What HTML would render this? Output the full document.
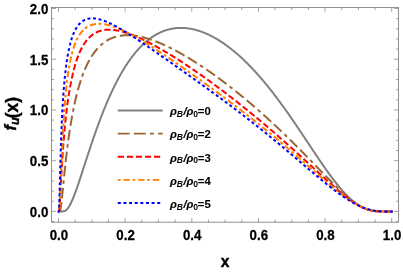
<!DOCTYPE html>
<html><head><meta charset="utf-8"><style>
html,body{margin:0;padding:0;background:#fff;}
svg{display:block;transform:translateZ(0);will-change:transform;}
text{font-family:"Liberation Sans",sans-serif;font-weight:bold;fill:#000;}
.tl{font-size:14px;stroke:#000;stroke-width:0.25px;}
.al{font-size:16.5px;stroke:#000;stroke-width:0.4px;}
.lg{font-size:11.3px;stroke:#000;stroke-width:0.1px;}
.sb{font-size:8.6px;stroke-width:0;}
</style></head><body>
<svg width="403" height="273" viewBox="0 0 403 273">
<rect width="403" height="273" fill="#fff"/>
<rect x="51.5" y="7.5" width="347.0" height="214.7" fill="none" stroke="#7f7f7f" stroke-width="0.85"/>
<path d="M58.50 222.10v-4.20M58.50 7.45v4.20M75.16 222.10v-2.60M75.16 7.45v2.60M91.82 222.10v-2.60M91.82 7.45v2.60M108.48 222.10v-2.60M108.48 7.45v2.60M125.14 222.10v-4.20M125.14 7.45v4.20M141.80 222.10v-2.60M141.80 7.45v2.60M158.46 222.10v-2.60M158.46 7.45v2.60M175.12 222.10v-2.60M175.12 7.45v2.60M191.78 222.10v-4.20M191.78 7.45v4.20M208.44 222.10v-2.60M208.44 7.45v2.60M225.10 222.10v-2.60M225.10 7.45v2.60M241.76 222.10v-2.60M241.76 7.45v2.60M258.42 222.10v-4.20M258.42 7.45v4.20M275.08 222.10v-2.60M275.08 7.45v2.60M291.74 222.10v-2.60M291.74 7.45v2.60M308.40 222.10v-2.60M308.40 7.45v2.60M325.06 222.10v-4.20M325.06 7.45v4.20M341.72 222.10v-2.60M341.72 7.45v2.60M358.38 222.10v-2.60M358.38 7.45v2.60M375.04 222.10v-2.60M375.04 7.45v2.60M391.70 222.10v-4.20M391.70 7.45v4.20M51.50 221.55h2.50M398.50 221.55h-2.50M51.50 211.40h4.40M398.50 211.40h-4.40M51.50 201.25h2.50M398.50 201.25h-2.50M51.50 191.11h2.50M398.50 191.11h-2.50M51.50 180.97h2.50M398.50 180.97h-2.50M51.50 170.82h2.50M398.50 170.82h-2.50M51.50 160.68h4.40M398.50 160.68h-4.40M51.50 150.53h2.50M398.50 150.53h-2.50M51.50 140.38h2.50M398.50 140.38h-2.50M51.50 130.24h2.50M398.50 130.24h-2.50M51.50 120.09h2.50M398.50 120.09h-2.50M51.50 109.95h4.40M398.50 109.95h-4.40M51.50 99.80h2.50M398.50 99.80h-2.50M51.50 89.66h2.50M398.50 89.66h-2.50M51.50 79.51h2.50M398.50 79.51h-2.50M51.50 69.37h2.50M398.50 69.37h-2.50M51.50 59.22h4.40M398.50 59.22h-4.40M51.50 49.08h2.50M398.50 49.08h-2.50M51.50 38.93h2.50M398.50 38.93h-2.50M51.50 28.79h2.50M398.50 28.79h-2.50M51.50 18.65h2.50M398.50 18.65h-2.50M51.50 8.50h4.40M398.50 8.50h-4.40" stroke="#7f7f7f" stroke-width="0.72" fill="none"/>
<text transform="translate(58.90 239.7) scale(0.95 1)" text-anchor="middle" class="tl">0.0</text>
<text transform="translate(125.54 239.7) scale(0.95 1)" text-anchor="middle" class="tl">0.2</text>
<text transform="translate(192.18 239.7) scale(0.95 1)" text-anchor="middle" class="tl">0.4</text>
<text transform="translate(258.82 239.7) scale(0.95 1)" text-anchor="middle" class="tl">0.6</text>
<text transform="translate(325.46 239.7) scale(0.95 1)" text-anchor="middle" class="tl">0.8</text>
<text transform="translate(392.10 239.7) scale(0.95 1)" text-anchor="middle" class="tl">1.0</text>
<text transform="translate(48.3 216.80) scale(0.95 1)" text-anchor="end" class="tl">0.0</text>
<text transform="translate(48.3 166.08) scale(0.95 1)" text-anchor="end" class="tl">0.5</text>
<text transform="translate(48.3 115.35) scale(0.95 1)" text-anchor="end" class="tl">1.0</text>
<text transform="translate(48.3 64.62) scale(0.95 1)" text-anchor="end" class="tl">1.5</text>
<text transform="translate(48.3 13.90) scale(0.95 1)" text-anchor="end" class="tl">2.0</text>
<text x="225.1" y="267.3" text-anchor="middle" class="al" style="font-size:15.6px">x</text>
<text transform="translate(15.6 113.7) rotate(-90)" text-anchor="middle" class="al"><tspan font-style="italic">f</tspan><tspan font-style="italic" font-size="12.5" dy="3.6">u</tspan><tspan dy="-1.6" font-size="17.5" dx="-1.0">(x)</tspan></text>
<clipPath id="c"><rect x="51.5" y="7.5" width="347.0" height="214.7"/></clipPath>
<g clip-path="url(#c)" fill="none" stroke-width="2" stroke-linejoin="round">
<path d="M58.50 211.40 L58.54 211.40 L58.58 211.40 L58.63 211.40 L58.67 211.40 L58.71 211.40 L58.75 211.40 L58.79 211.40 L58.83 211.40 L58.88 211.40 L58.92 211.40 L58.96 211.40 L59.00 211.40 L59.04 211.40 L59.08 211.40 L59.13 211.40 L59.17 211.40 L59.21 211.40 L59.25 211.40 L59.29 211.40 L59.34 211.40 L59.38 211.40 L59.42 211.40 L59.46 211.40 L59.50 211.40 L59.54 211.40 L59.59 211.40 L59.63 211.40 L59.67 211.40 L59.71 211.40 L59.75 211.40 L59.79 211.40 L59.84 211.40 L59.88 211.40 L59.92 211.40 L59.96 211.40 L60.00 211.40 L60.04 211.40 L60.09 211.40 L60.13 211.40 L60.17 211.40 L60.21 211.40 L60.25 211.40 L60.30 211.40 L60.34 211.40 L60.38 211.40 L60.42 211.40 L60.46 211.40 L60.50 211.40 L60.55 211.40 L60.59 211.40 L60.63 211.40 L60.67 211.40 L60.71 211.40 L60.75 211.40 L60.80 211.40 L60.84 211.40 L60.88 211.40 L60.92 211.40 L60.96 211.40 L61.01 211.40 L61.05 211.40 L61.09 211.40 L61.13 211.40 L61.17 211.40 L61.21 211.40 L61.26 211.40 L61.30 211.40 L61.34 211.40 L61.38 211.40 L61.42 211.40 L61.46 211.40 L61.51 211.40 L61.55 211.40 L61.59 211.40 L61.63 211.40 L61.67 211.40 L61.72 211.40 L61.76 211.40 L61.80 211.40 L61.84 211.40 L61.88 211.39 L61.92 211.39 L61.97 211.39 L62.01 211.39 L62.05 211.39 L62.09 211.39 L62.13 211.39 L62.17 211.39 L62.22 211.39 L62.26 211.39 L62.30 211.38 L62.34 211.38 L62.38 211.38 L62.42 211.38 L62.47 211.38 L62.51 211.38 L62.55 211.37 L62.59 211.37 L62.63 211.37 L62.68 211.37 L62.72 211.36 L62.76 211.36 L62.80 211.36 L62.84 211.36 L62.88 211.35 L62.93 211.35 L62.97 211.34 L63.01 211.34 L63.05 211.34 L63.09 211.33 L63.13 211.33 L63.18 211.32 L63.22 211.32 L63.26 211.31 L63.30 211.31 L63.34 211.30 L63.39 211.29 L63.43 211.29 L63.47 211.28 L63.51 211.27 L63.55 211.27 L63.59 211.26 L63.64 211.25 L63.68 211.24 L63.72 211.24 L63.76 211.23 L63.80 211.22 L63.84 211.21 L63.89 211.20 L63.93 211.19 L63.97 211.18 L64.01 211.17 L64.05 211.16 L64.10 211.14 L64.14 211.13 L64.18 211.12 L64.22 211.11 L64.26 211.10 L64.30 211.08 L64.35 211.07 L64.39 211.05 L64.43 211.04 L64.47 211.03 L64.51 211.01 L64.55 210.99 L64.60 210.98 L64.64 210.96 L64.68 210.95 L64.72 210.93 L64.76 210.91 L64.80 210.89 L64.85 210.87 L64.89 210.85 L64.93 210.84 L64.97 210.82 L65.01 210.79 L65.06 210.77 L65.10 210.75 L65.14 210.73 L65.18 210.71 L65.22 210.69 L65.26 210.66 L65.31 210.64 L65.35 210.62 L65.39 210.59 L65.43 210.57 L65.47 210.54 L65.51 210.51 L65.56 210.49 L65.60 210.46 L65.64 210.43 L65.68 210.41 L65.72 210.38 L65.77 210.35 L65.81 210.32 L65.85 210.29 L65.89 210.26 L65.93 210.23 L65.97 210.20 L66.02 210.17 L66.06 210.13 L66.10 210.10 L66.14 210.07 L66.18 210.03 L66.22 210.00 L66.27 209.96 L66.31 209.93 L66.35 209.89 L66.39 209.86 L66.43 209.82 L66.48 209.78 L66.52 209.74 L66.56 209.71 L66.60 209.67 L66.64 209.63 L66.68 209.59 L66.73 209.55 L66.77 209.51 L66.81 209.47 L66.85 209.42 L66.89 209.38 L66.93 209.34 L66.98 209.29 L67.02 209.25 L67.06 209.21 L67.10 209.16 L67.14 209.12 L67.18 209.07 L67.23 209.02 L67.27 208.98 L67.31 208.93 L67.35 208.88 L67.39 208.83 L67.44 208.78 L67.48 208.73 L67.52 208.68 L67.56 208.63 L67.60 208.58 L67.64 208.53 L67.69 208.48 L67.73 208.43 L67.77 208.37 L67.81 208.32 L67.85 208.27 L67.89 208.21 L67.94 208.16 L67.98 208.10 L68.02 208.05 L68.06 207.99 L68.10 207.93 L68.15 207.88 L68.19 207.82 L68.23 207.76 L68.27 207.70 L68.31 207.64 L68.35 207.58 L68.40 207.52 L68.44 207.46 L68.48 207.40 L68.52 207.34 L68.56 207.28 L68.60 207.22 L68.65 207.15 L68.69 207.09 L68.73 207.03 L68.77 206.96 L68.81 206.90 L68.86 206.83 L68.90 206.77 L68.94 206.70 L68.98 206.63 L69.02 206.57 L69.06 206.50 L69.11 206.43 L69.15 206.36 L69.19 206.29 L69.23 206.22 L69.27 206.15 L69.31 206.08 L69.36 206.01 L69.40 205.94 L69.44 205.87 L69.48 205.80 L69.52 205.73 L69.56 205.65 L69.61 205.58 L69.65 205.51 L69.69 205.43 L69.73 205.36 L69.77 205.28 L69.82 205.21 L69.86 205.13 L69.90 205.06 L69.94 204.98 L69.98 204.90 L70.02 204.83 L70.07 204.75 L70.11 204.67 L70.15 204.59 L70.19 204.51 L70.23 204.44 L70.27 204.36 L70.32 204.28 L70.36 204.20 L70.40 204.11 L70.44 204.03 L70.48 203.95 L70.53 203.87 L70.57 203.79 L70.61 203.70 L70.65 203.62 L70.69 203.54 L70.73 203.45 L70.78 203.37 L70.82 203.29 L70.86 203.20 L70.90 203.12 L70.94 203.03 L70.98 202.94 L71.03 202.86 L71.07 202.77 L71.11 202.68 L71.15 202.60 L71.19 202.51 L71.24 202.42 L71.28 202.33 L71.32 202.24 L71.36 202.15 L71.40 202.07 L71.44 201.98 L71.49 201.89 L71.53 201.80 L71.57 201.70 L71.61 201.61 L71.65 201.52 L71.69 201.43 L71.74 201.34 L71.78 201.25 L71.82 201.15 L71.86 201.06 L71.90 200.97 L71.94 200.87 L71.99 200.78 L72.03 200.68 L72.07 200.59 L72.11 200.50 L72.15 200.40 L72.20 200.30 L72.24 200.21 L72.28 200.11 L72.32 200.02 L72.36 199.92 L72.40 199.82 L72.45 199.73 L72.49 199.63 L72.53 199.53 L72.57 199.43 L72.61 199.33 L72.65 199.23 L72.70 199.14 L72.74 199.04 L72.78 198.94 L72.82 198.84 L72.86 198.74 L72.91 198.64 L72.95 198.54 L72.99 198.43 L73.03 198.33 L73.07 198.23 L73.11 198.13 L73.16 198.03 L73.20 197.93 L73.24 197.82 L73.28 197.72 L73.32 197.62 L73.36 197.51 L73.41 197.41 L73.45 197.31 L73.49 197.20 L73.53 197.10 L73.57 196.99 L73.62 196.89 L73.66 196.79 L73.70 196.68 L73.74 196.57 L73.78 196.47 L73.82 196.36 L73.87 196.26 L73.91 196.15 L73.95 196.04 L73.99 195.94 L74.03 195.83 L74.07 195.72 L74.12 195.62 L74.16 195.51 L74.20 195.40 L74.24 195.29 L74.28 195.18 L74.32 195.07 L74.37 194.97 L74.41 194.86 L74.45 194.75 L74.49 194.64 L74.53 194.53 L74.58 194.42 L74.62 194.31 L74.66 194.20 L74.70 194.09 L74.74 193.98 L74.78 193.87 L74.83 193.75 L74.87 193.64 L74.91 193.53 L74.95 193.42 L74.99 193.31 L75.03 193.20 L75.08 193.08 L75.12 192.97 L75.16 192.86 L75.56 191.78 L75.95 190.69 L76.35 189.58 L76.74 188.46 L77.14 187.33 L77.54 186.19 L77.93 185.03 L78.33 183.87 L78.73 182.70 L79.12 181.52 L79.52 180.33 L79.91 179.14 L80.31 177.94 L80.71 176.74 L81.10 175.53 L81.50 174.32 L81.89 173.10 L82.29 171.89 L82.69 170.67 L83.08 169.45 L83.48 168.23 L83.88 167.00 L84.27 165.78 L84.67 164.56 L85.06 163.34 L85.46 162.11 L85.86 160.89 L86.25 159.68 L86.65 158.46 L87.05 157.24 L87.44 156.03 L87.84 154.82 L88.23 153.61 L88.63 152.41 L89.03 151.21 L89.42 150.01 L89.82 148.82 L90.21 147.63 L90.61 146.44 L91.01 145.26 L91.40 144.09 L91.80 142.92 L92.20 141.75 L92.59 140.59 L92.99 139.43 L93.38 138.28 L93.78 137.13 L94.18 135.99 L94.57 134.85 L94.97 133.72 L95.36 132.60 L95.76 131.48 L96.16 130.37 L96.55 129.26 L96.95 128.16 L97.35 127.06 L97.74 125.97 L98.14 124.89 L98.53 123.82 L98.93 122.75 L99.33 121.68 L99.72 120.63 L100.12 119.58 L100.51 118.53 L100.91 117.49 L101.31 116.46 L101.70 115.44 L102.10 114.42 L102.50 113.41 L102.89 112.41 L103.29 111.41 L103.68 110.42 L104.08 109.43 L104.48 108.46 L104.87 107.49 L105.27 106.52 L105.67 105.57 L106.06 104.62 L106.46 103.67 L106.85 102.74 L107.25 101.81 L107.65 100.89 L108.04 99.97 L108.44 99.06 L108.83 98.16 L109.23 97.27 L109.63 96.38 L110.02 95.50 L110.42 94.62 L110.82 93.76 L111.21 92.89 L111.61 92.04 L112.00 91.19 L112.40 90.35 L112.80 89.52 L113.19 88.69 L113.59 87.87 L113.98 87.06 L114.38 86.26 L114.78 85.46 L115.17 84.66 L115.57 83.88 L115.97 83.10 L116.36 82.33 L116.76 81.56 L117.15 80.80 L117.55 80.05 L117.95 79.30 L118.34 78.56 L118.74 77.83 L119.13 77.10 L119.53 76.38 L119.93 75.67 L120.32 74.96 L120.72 74.26 L121.12 73.57 L121.51 72.88 L121.91 72.20 L122.30 71.52 L122.70 70.85 L123.10 70.19 L123.49 69.54 L123.89 68.89 L124.29 68.24 L124.68 67.60 L125.08 66.97 L125.47 66.35 L125.87 65.73 L126.27 65.12 L126.66 64.51 L127.06 63.91 L127.45 63.32 L127.85 62.73 L128.25 62.14 L128.64 61.57 L129.04 61.00 L129.44 60.43 L129.83 59.87 L130.23 59.32 L130.62 58.77 L131.02 58.23 L131.42 57.70 L131.81 57.17 L132.21 56.64 L132.60 56.12 L133.00 55.61 L133.40 55.10 L133.79 54.60 L134.19 54.11 L134.59 53.62 L134.98 53.13 L135.38 52.65 L135.77 52.18 L136.17 51.71 L136.57 51.25 L136.96 50.79 L137.36 50.34 L137.75 49.89 L138.15 49.45 L138.55 49.01 L138.94 48.58 L139.34 48.15 L139.74 47.73 L140.13 47.32 L140.53 46.91 L140.92 46.50 L141.32 46.10 L141.72 45.71 L142.11 45.32 L142.51 44.93 L142.91 44.55 L143.30 44.18 L143.70 43.81 L144.09 43.44 L144.49 43.08 L144.89 42.73 L145.28 42.38 L145.68 42.03 L146.07 41.69 L146.47 41.36 L146.87 41.03 L147.26 40.70 L147.66 40.38 L148.06 40.06 L148.45 39.75 L148.85 39.44 L149.24 39.14 L149.64 38.84 L150.04 38.55 L150.43 38.26 L150.83 37.97 L151.22 37.69 L151.62 37.41 L152.02 37.14 L152.41 36.88 L152.81 36.61 L153.21 36.35 L153.60 36.10 L154.00 35.85 L154.39 35.61 L154.79 35.36 L155.19 35.13 L155.58 34.89 L155.98 34.67 L156.37 34.44 L156.77 34.22 L157.17 34.01 L157.56 33.79 L157.96 33.59 L158.36 33.38 L158.75 33.18 L159.15 32.99 L159.54 32.80 L159.94 32.61 L160.34 32.43 L160.73 32.25 L161.13 32.07 L161.53 31.90 L161.92 31.73 L162.32 31.57 L162.71 31.41 L163.11 31.25 L163.51 31.10 L163.90 30.95 L164.30 30.81 L164.69 30.66 L165.09 30.53 L165.49 30.39 L165.88 30.26 L166.28 30.14 L166.68 30.01 L167.07 29.90 L167.47 29.78 L167.86 29.67 L168.26 29.56 L168.66 29.46 L169.05 29.36 L169.45 29.26 L169.84 29.16 L170.24 29.07 L170.64 28.99 L171.03 28.90 L171.43 28.82 L171.83 28.75 L172.22 28.67 L172.62 28.60 L173.01 28.54 L173.41 28.47 L173.81 28.42 L174.20 28.36 L174.60 28.31 L174.99 28.26 L175.39 28.21 L175.79 28.17 L176.18 28.13 L176.58 28.09 L176.98 28.06 L177.37 28.03 L177.77 28.00 L178.16 27.98 L178.56 27.96 L178.96 27.94 L179.35 27.92 L179.75 27.91 L180.15 27.90 L180.54 27.90 L180.94 27.90 L181.33 27.90 L181.73 27.90 L182.13 27.91 L182.52 27.92 L182.92 27.93 L183.31 27.95 L183.71 27.97 L184.11 27.99 L184.50 28.02 L184.90 28.05 L185.30 28.08 L185.69 28.11 L186.09 28.15 L186.48 28.19 L186.88 28.23 L187.28 28.28 L187.67 28.32 L188.07 28.38 L188.46 28.43 L188.86 28.49 L189.26 28.55 L189.65 28.61 L190.05 28.67 L190.45 28.74 L190.84 28.81 L191.24 28.89 L191.63 28.96 L192.03 29.04 L192.43 29.13 L192.82 29.21 L193.22 29.30 L193.61 29.39 L194.01 29.48 L194.41 29.58 L194.80 29.67 L195.20 29.77 L195.60 29.88 L195.99 29.98 L196.39 30.09 L196.78 30.20 L197.18 30.32 L197.58 30.43 L197.97 30.55 L198.37 30.68 L198.77 30.80 L199.16 30.93 L199.56 31.06 L199.95 31.19 L200.35 31.32 L200.75 31.46 L201.14 31.60 L201.54 31.74 L201.93 31.89 L202.33 32.03 L202.73 32.18 L203.12 32.33 L203.52 32.49 L203.92 32.65 L204.31 32.81 L204.71 32.97 L205.10 33.13 L205.50 33.30 L205.90 33.47 L206.29 33.64 L206.69 33.81 L207.08 33.99 L207.48 34.17 L207.88 34.35 L208.27 34.53 L208.67 34.72 L209.07 34.91 L209.46 35.10 L209.86 35.29 L210.25 35.49 L210.65 35.68 L211.05 35.88 L211.44 36.09 L211.84 36.29 L212.23 36.50 L212.63 36.71 L213.03 36.92 L213.42 37.13 L213.82 37.35 L214.22 37.57 L214.61 37.79 L215.01 38.01 L215.40 38.24 L215.80 38.46 L216.20 38.69 L216.59 38.93 L216.99 39.16 L217.39 39.40 L217.78 39.64 L218.18 39.88 L218.57 40.12 L218.97 40.37 L219.37 40.61 L219.76 40.86 L220.16 41.12 L220.55 41.37 L220.95 41.63 L221.35 41.89 L221.74 42.15 L222.14 42.41 L222.54 42.68 L222.93 42.94 L223.33 43.21 L223.72 43.48 L224.12 43.76 L224.52 44.03 L224.91 44.31 L225.31 44.59 L225.70 44.88 L226.10 45.16 L226.50 45.45 L226.89 45.74 L227.29 46.03 L227.69 46.32 L228.08 46.62 L228.48 46.91 L228.87 47.21 L229.27 47.52 L229.67 47.82 L230.06 48.13 L230.46 48.43 L230.85 48.74 L231.25 49.06 L231.65 49.37 L232.04 49.69 L232.44 50.00 L232.84 50.33 L233.23 50.65 L233.63 50.97 L234.02 51.30 L234.42 51.63 L234.82 51.96 L235.21 52.29 L235.61 52.63 L236.01 52.96 L236.40 53.30 L236.80 53.64 L237.19 53.99 L237.59 54.33 L237.99 54.68 L238.38 55.03 L238.78 55.38 L239.17 55.73 L239.57 56.09 L239.97 56.45 L240.36 56.80 L240.76 57.17 L241.16 57.53 L241.55 57.89 L241.95 58.26 L242.34 58.63 L242.74 59.00 L243.14 59.38 L243.53 59.75 L243.93 60.13 L244.32 60.51 L244.72 60.89 L245.12 61.27 L245.51 61.66 L245.91 62.04 L246.31 62.43 L246.70 62.82 L247.10 63.22 L247.49 63.61 L247.89 64.01 L248.29 64.41 L248.68 64.81 L249.08 65.21 L249.47 65.61 L249.87 66.02 L250.27 66.43 L250.66 66.84 L251.06 67.25 L251.46 67.67 L251.85 68.08 L252.25 68.50 L252.64 68.92 L253.04 69.34 L253.44 69.76 L253.83 70.19 L254.23 70.62 L254.63 71.05 L255.02 71.48 L255.42 71.91 L255.81 72.34 L256.21 72.78 L256.61 73.22 L257.00 73.66 L257.40 74.10 L257.79 74.55 L258.19 74.99 L258.59 75.44 L258.98 75.89 L259.38 76.34 L259.78 76.79 L260.17 77.25 L260.57 77.71 L260.96 78.16 L261.36 78.62 L261.76 79.09 L262.15 79.55 L262.55 80.02 L262.94 80.48 L263.34 80.95 L263.74 81.42 L264.13 81.90 L264.53 82.37 L264.93 82.85 L265.32 83.33 L265.72 83.81 L266.11 84.29 L266.51 84.77 L266.91 85.26 L267.30 85.74 L267.70 86.23 L268.09 86.72 L268.49 87.21 L268.89 87.71 L269.28 88.20 L269.68 88.70 L270.08 89.20 L270.47 89.70 L270.87 90.20 L271.26 90.70 L271.66 91.21 L272.06 91.71 L272.45 92.22 L272.85 92.73 L273.25 93.24 L273.64 93.75 L274.04 94.27 L274.43 94.79 L274.83 95.30 L275.23 95.82 L275.62 96.34 L276.02 96.87 L276.41 97.39 L276.81 97.91 L277.21 98.44 L277.60 98.97 L278.00 99.50 L278.40 100.03 L278.79 100.56 L279.19 101.10 L279.58 101.63 L279.98 102.17 L280.38 102.71 L280.77 103.25 L281.17 103.79 L281.56 104.33 L281.96 104.88 L282.36 105.42 L282.75 105.97 L283.15 106.52 L283.55 107.07 L283.94 107.62 L284.34 108.17 L284.73 108.72 L285.13 109.28 L285.53 109.83 L285.92 110.39 L286.32 110.95 L286.71 111.51 L287.11 112.07 L287.51 112.63 L287.90 113.19 L288.30 113.76 L288.70 114.32 L289.09 114.89 L289.49 115.46 L289.88 116.02 L290.28 116.59 L290.68 117.17 L291.07 117.74 L291.47 118.31 L291.87 118.88 L292.26 119.46 L292.66 120.03 L293.05 120.61 L293.45 121.19 L293.85 121.77 L294.24 122.35 L294.64 122.93 L295.03 123.51 L295.43 124.09 L295.83 124.67 L296.22 125.26 L296.62 125.84 L297.02 126.43 L297.41 127.01 L297.81 127.60 L298.20 128.19 L298.60 128.77 L299.00 129.36 L299.39 129.95 L299.79 130.54 L300.18 131.13 L300.58 131.72 L300.98 132.32 L301.37 132.91 L301.77 133.50 L302.17 134.09 L302.56 134.69 L302.96 135.28 L303.35 135.87 L303.75 136.47 L304.15 137.06 L304.54 137.66 L304.94 138.25 L305.33 138.85 L305.73 139.45 L306.13 140.04 L306.52 140.64 L306.92 141.24 L307.32 141.83 L307.71 142.43 L308.11 143.03 L308.50 143.62 L308.90 144.22 L309.30 144.82 L309.69 145.41 L310.09 146.01 L310.49 146.60 L310.88 147.20 L311.28 147.80 L311.67 148.39 L312.07 148.99 L312.47 149.58 L312.86 150.18 L313.26 150.77 L313.65 151.37 L314.05 151.96 L314.45 152.55 L314.84 153.14 L315.24 153.74 L315.64 154.33 L316.03 154.92 L316.43 155.51 L316.82 156.10 L317.22 156.69 L317.62 157.28 L318.01 157.86 L318.41 158.45 L318.80 159.03 L319.20 159.62 L319.60 160.20 L319.99 160.78 L320.39 161.37 L320.79 161.95 L321.18 162.52 L321.58 163.10 L321.97 163.68 L322.37 164.25 L322.77 164.83 L323.16 165.40 L323.56 165.97 L323.95 166.54 L324.35 167.11 L324.75 167.68 L325.14 168.24 L325.54 168.81 L325.94 169.37 L326.33 169.93 L326.73 170.49 L327.12 171.04 L327.52 171.60 L327.92 172.15 L328.31 172.70 L328.71 173.25 L329.11 173.80 L329.50 174.34 L329.90 174.89 L330.29 175.43 L330.69 175.97 L331.09 176.50 L331.48 177.04 L331.88 177.57 L332.27 178.10 L332.67 178.62 L333.07 179.15 L333.46 179.67 L333.86 180.19 L334.26 180.70 L334.65 181.21 L335.05 181.72 L335.44 182.23 L335.84 182.74 L336.24 183.24 L336.63 183.74 L337.03 184.23 L337.42 184.72 L337.82 185.21 L338.22 185.70 L338.61 186.18 L339.01 186.66 L339.41 187.14 L339.80 187.61 L340.20 188.08 L340.59 188.54 L340.99 189.01 L341.39 189.46 L341.78 189.92 L342.18 190.37 L342.57 190.82 L342.97 191.26 L343.37 191.70 L343.76 192.13 L344.16 192.56 L344.56 192.99 L344.95 193.41 L345.35 193.83 L345.74 194.25 L346.14 194.66 L346.54 195.06 L346.93 195.47 L347.33 195.86 L347.73 196.26 L348.12 196.64 L348.52 197.03 L348.91 197.41 L349.31 197.78 L349.71 198.15 L350.10 198.52 L350.50 198.88 L350.89 199.23 L351.29 199.58 L351.69 199.93 L352.08 200.27 L352.48 200.60 L352.88 200.93 L353.27 201.26 L353.67 201.58 L354.06 201.90 L354.46 202.21 L354.86 202.51 L355.25 202.81 L355.65 203.11 L356.04 203.39 L356.44 203.68 L356.84 203.96 L357.23 204.23 L357.63 204.50 L358.03 204.76 L358.42 205.02 L358.82 205.27 L359.21 205.51 L359.61 205.75 L360.01 205.99 L360.40 206.22 L360.80 206.44 L361.19 206.66 L361.59 206.87 L361.99 207.08 L362.38 207.28 L362.78 207.48 L363.18 207.67 L363.57 207.86 L363.97 208.04 L364.36 208.21 L364.76 208.38 L365.16 208.54 L365.55 208.70 L365.95 208.85 L366.35 209.00 L366.74 209.14 L367.14 209.28 L367.53 209.41 L367.93 209.54 L368.33 209.66 L368.72 209.78 L369.12 209.89 L369.51 210.00 L369.91 210.10 L370.31 210.20 L370.70 210.29 L371.10 210.38 L371.50 210.46 L371.89 210.54 L372.29 210.61 L372.68 210.68 L373.08 210.75 L373.48 210.81 L373.87 210.87 L374.27 210.92 L374.66 210.97 L375.06 211.02 L375.46 211.06 L375.85 211.10 L376.25 211.13 L376.65 211.17 L377.04 211.20 L377.44 211.22 L377.83 211.25 L378.23 211.27 L378.63 211.29 L379.02 211.31 L379.42 211.32 L379.81 211.34 L380.21 211.35 L380.61 211.36 L381.00 211.37 L381.40 211.37 L381.80 211.38 L382.19 211.38 L382.59 211.39 L382.98 211.39 L383.38 211.39 L383.78 211.40 L384.17 211.40 L384.57 211.40 L384.97 211.40 L385.36 211.40 L385.76 211.40 L386.15 211.40 L386.55 211.40 L386.95 211.40 L387.34 211.40 L387.74 211.40 L388.13 211.40 L388.53 211.40 L388.93 211.40 L389.32 211.40 L389.72 211.40 L390.12 211.40 L390.51 211.40 L390.91 211.40 L391.30 211.40 L391.70 211.40 L392.70 211.40" stroke="#808080"/>
<path d="M58.50 212.40 L58.50 211.40 L58.54 211.40 L58.58 211.40 L58.63 211.40 L58.67 211.40 L58.71 211.40 L58.75 211.40 L58.79 211.40 L58.83 211.40 L58.88 211.40 L58.92 211.40 L58.96 211.40 L59.00 211.40 L59.04 211.40 L59.08 211.40 L59.13 211.40 L59.17 211.40 L59.21 211.40 L59.25 211.39 L59.29 211.39 L59.34 211.38 L59.38 211.38 L59.42 211.37 L59.46 211.35 L59.50 211.33 L59.54 211.31 L59.59 211.29 L59.63 211.25 L59.67 211.22 L59.71 211.17 L59.75 211.12 L59.79 211.06 L59.84 211.00 L59.88 210.92 L59.92 210.84 L59.96 210.75 L60.00 210.65 L60.04 210.55 L60.09 210.43 L60.13 210.31 L60.17 210.17 L60.21 210.03 L60.25 209.88 L60.30 209.72 L60.34 209.55 L60.38 209.37 L60.42 209.19 L60.46 208.99 L60.50 208.79 L60.55 208.58 L60.59 208.36 L60.63 208.13 L60.67 207.89 L60.71 207.65 L60.75 207.40 L60.80 207.14 L60.84 206.88 L60.88 206.61 L60.92 206.33 L60.96 206.04 L61.01 205.75 L61.05 205.45 L61.09 205.15 L61.13 204.84 L61.17 204.53 L61.21 204.21 L61.26 203.88 L61.30 203.55 L61.34 203.22 L61.38 202.88 L61.42 202.53 L61.46 202.18 L61.51 201.83 L61.55 201.47 L61.59 201.11 L61.63 200.75 L61.67 200.38 L61.72 200.01 L61.76 199.64 L61.80 199.26 L61.84 198.88 L61.88 198.50 L61.92 198.11 L61.97 197.73 L62.01 197.34 L62.05 196.94 L62.09 196.55 L62.13 196.15 L62.17 195.75 L62.22 195.35 L62.26 194.95 L62.30 194.55 L62.34 194.14 L62.38 193.73 L62.42 193.33 L62.47 192.92 L62.51 192.51 L62.55 192.10 L62.59 191.68 L62.63 191.27 L62.68 190.85 L62.72 190.44 L62.76 190.02 L62.80 189.61 L62.84 189.19 L62.88 188.77 L62.93 188.36 L62.97 187.94 L63.01 187.52 L63.05 187.10 L63.09 186.68 L63.13 186.26 L63.18 185.84 L63.22 185.42 L63.26 185.01 L63.30 184.59 L63.34 184.17 L63.39 183.75 L63.43 183.33 L63.47 182.91 L63.51 182.49 L63.55 182.08 L63.59 181.66 L63.64 181.24 L63.68 180.82 L63.72 180.41 L63.76 179.99 L63.80 179.58 L63.84 179.16 L63.89 178.75 L63.93 178.33 L63.97 177.92 L64.01 177.51 L64.05 177.10 L64.10 176.68 L64.14 176.27 L64.18 175.86 L64.22 175.45 L64.26 175.05 L64.30 174.64 L64.35 174.23 L64.39 173.83 L64.43 173.42 L64.47 173.02 L64.51 172.61 L64.55 172.21 L64.60 171.81 L64.64 171.41 L64.68 171.01 L64.72 170.61 L64.76 170.21 L64.80 169.81 L64.85 169.42 L64.89 169.02 L64.93 168.63 L64.97 168.23 L65.01 167.84 L65.06 167.45 L65.10 167.06 L65.14 166.67 L65.18 166.28 L65.22 165.89 L65.26 165.51 L65.31 165.12 L65.35 164.74 L65.39 164.36 L65.43 163.97 L65.47 163.59 L65.51 163.21 L65.56 162.83 L65.60 162.46 L65.64 162.08 L65.68 161.70 L65.72 161.33 L65.77 160.96 L65.81 160.58 L65.85 160.21 L65.89 159.84 L65.93 159.47 L65.97 159.10 L66.02 158.74 L66.06 158.37 L66.10 158.01 L66.14 157.64 L66.18 157.28 L66.22 156.92 L66.27 156.56 L66.31 156.20 L66.35 155.84 L66.39 155.48 L66.43 155.13 L66.48 154.77 L66.52 154.42 L66.56 154.07 L66.60 153.72 L66.64 153.37 L66.68 153.02 L66.73 152.67 L66.77 152.32 L66.81 151.98 L66.85 151.63 L66.89 151.29 L66.93 150.94 L66.98 150.60 L67.02 150.26 L67.06 149.92 L67.10 149.58 L67.14 149.25 L67.18 148.91 L67.23 148.58 L67.27 148.24 L67.31 147.91 L67.35 147.58 L67.39 147.25 L67.44 146.92 L67.48 146.59 L67.52 146.26 L67.56 145.93 L67.60 145.61 L67.64 145.28 L67.69 144.96 L67.73 144.64 L67.77 144.32 L67.81 144.00 L67.85 143.68 L67.89 143.36 L67.94 143.04 L67.98 142.73 L68.02 142.41 L68.06 142.10 L68.10 141.78 L68.15 141.47 L68.19 141.16 L68.23 140.85 L68.27 140.54 L68.31 140.23 L68.35 139.93 L68.40 139.62 L68.44 139.32 L68.48 139.01 L68.52 138.71 L68.56 138.41 L68.60 138.11 L68.65 137.81 L68.69 137.51 L68.73 137.21 L68.77 136.91 L68.81 136.62 L68.86 136.32 L68.90 136.03 L68.94 135.73 L68.98 135.44 L69.02 135.15 L69.06 134.86 L69.11 134.57 L69.15 134.28 L69.19 133.99 L69.23 133.71 L69.27 133.42 L69.31 133.14 L69.36 132.85 L69.40 132.57 L69.44 132.29 L69.48 132.01 L69.52 131.73 L69.56 131.45 L69.61 131.17 L69.65 130.89 L69.69 130.62 L69.73 130.34 L69.77 130.07 L69.82 129.79 L69.86 129.52 L69.90 129.25 L69.94 128.98 L69.98 128.71 L70.02 128.44 L70.07 128.17 L70.11 127.90 L70.15 127.63 L70.19 127.37 L70.23 127.10 L70.27 126.84 L70.32 126.58 L70.36 126.31 L70.40 126.05 L70.44 125.79 L70.48 125.53 L70.53 125.27 L70.57 125.01 L70.61 124.76 L70.65 124.50 L70.69 124.24 L70.73 123.99 L70.78 123.73 L70.82 123.48 L70.86 123.23 L70.90 122.98 L70.94 122.73 L70.98 122.48 L71.03 122.23 L71.07 121.98 L71.11 121.73 L71.15 121.48 L71.19 121.24 L71.24 120.99 L71.28 120.75 L71.32 120.50 L71.36 120.26 L71.40 120.02 L71.44 119.78 L71.49 119.53 L71.53 119.29 L71.57 119.06 L71.61 118.82 L71.65 118.58 L71.69 118.34 L71.74 118.11 L71.78 117.87 L71.82 117.63 L71.86 117.40 L71.90 117.17 L71.94 116.93 L71.99 116.70 L72.03 116.47 L72.07 116.24 L72.11 116.01 L72.15 115.78 L72.20 115.55 L72.24 115.33 L72.28 115.10 L72.32 114.87 L72.36 114.65 L72.40 114.42 L72.45 114.20 L72.49 113.98 L72.53 113.75 L72.57 113.53 L72.61 113.31 L72.65 113.09 L72.70 112.87 L72.74 112.65 L72.78 112.43 L72.82 112.21 L72.86 111.99 L72.91 111.78 L72.95 111.56 L72.99 111.35 L73.03 111.13 L73.07 110.92 L73.11 110.70 L73.16 110.49 L73.20 110.28 L73.24 110.07 L73.28 109.86 L73.32 109.65 L73.36 109.44 L73.41 109.23 L73.45 109.02 L73.49 108.81 L73.53 108.61 L73.57 108.40 L73.62 108.19 L73.66 107.99 L73.70 107.78 L73.74 107.58 L73.78 107.38 L73.82 107.17 L73.87 106.97 L73.91 106.77 L73.95 106.57 L73.99 106.37 L74.03 106.17 L74.07 105.97 L74.12 105.77 L74.16 105.57 L74.20 105.38 L74.24 105.18 L74.28 104.98 L74.32 104.79 L74.37 104.59 L74.41 104.40 L74.45 104.21 L74.49 104.01 L74.53 103.82 L74.58 103.63 L74.62 103.44 L74.66 103.25 L74.70 103.05 L74.74 102.87 L74.78 102.68 L74.83 102.49 L74.87 102.30 L74.91 102.11 L74.95 101.92 L74.99 101.74 L75.03 101.55 L75.08 101.37 L75.12 101.18 L75.16 101.00 L75.56 99.27 L75.95 97.60 L76.35 95.97 L76.74 94.38 L77.14 92.84 L77.54 91.33 L77.93 89.87 L78.33 88.44 L78.73 87.05 L79.12 85.69 L79.52 84.37 L79.91 83.09 L80.31 81.83 L80.71 80.61 L81.10 79.41 L81.50 78.25 L81.89 77.12 L82.29 76.01 L82.69 74.93 L83.08 73.87 L83.48 72.85 L83.88 71.84 L84.27 70.86 L84.67 69.91 L85.06 68.97 L85.46 68.06 L85.86 67.17 L86.25 66.30 L86.65 65.45 L87.05 64.62 L87.44 63.81 L87.84 63.02 L88.23 62.25 L88.63 61.50 L89.03 60.76 L89.42 60.04 L89.82 59.34 L90.21 58.65 L90.61 57.98 L91.01 57.32 L91.40 56.68 L91.80 56.06 L92.20 55.45 L92.59 54.85 L92.99 54.27 L93.38 53.70 L93.78 53.14 L94.18 52.60 L94.57 52.06 L94.97 51.55 L95.36 51.04 L95.76 50.54 L96.16 50.06 L96.55 49.59 L96.95 49.13 L97.35 48.68 L97.74 48.24 L98.14 47.81 L98.53 47.39 L98.93 46.98 L99.33 46.59 L99.72 46.20 L100.12 45.82 L100.51 45.45 L100.91 45.08 L101.31 44.73 L101.70 44.39 L102.10 44.05 L102.50 43.73 L102.89 43.41 L103.29 43.10 L103.68 42.80 L104.08 42.50 L104.48 42.22 L104.87 41.94 L105.27 41.66 L105.67 41.40 L106.06 41.14 L106.46 40.89 L106.85 40.65 L107.25 40.41 L107.65 40.18 L108.04 39.96 L108.44 39.74 L108.83 39.53 L109.23 39.33 L109.63 39.13 L110.02 38.94 L110.42 38.75 L110.82 38.57 L111.21 38.39 L111.61 38.22 L112.00 38.06 L112.40 37.90 L112.80 37.75 L113.19 37.60 L113.59 37.46 L113.98 37.32 L114.38 37.19 L114.78 37.06 L115.17 36.94 L115.57 36.83 L115.97 36.71 L116.36 36.60 L116.76 36.50 L117.15 36.40 L117.55 36.31 L117.95 36.22 L118.34 36.13 L118.74 36.05 L119.13 35.97 L119.53 35.90 L119.93 35.83 L120.32 35.77 L120.72 35.71 L121.12 35.65 L121.51 35.60 L121.91 35.55 L122.30 35.50 L122.70 35.46 L123.10 35.42 L123.49 35.39 L123.89 35.36 L124.29 35.33 L124.68 35.31 L125.08 35.29 L125.47 35.27 L125.87 35.26 L126.27 35.25 L126.66 35.24 L127.06 35.24 L127.45 35.23 L127.85 35.24 L128.25 35.24 L128.64 35.25 L129.04 35.26 L129.44 35.28 L129.83 35.29 L130.23 35.31 L130.62 35.34 L131.02 35.36 L131.42 35.39 L131.81 35.42 L132.21 35.46 L132.60 35.50 L133.00 35.54 L133.40 35.58 L133.79 35.62 L134.19 35.67 L134.59 35.72 L134.98 35.77 L135.38 35.83 L135.77 35.88 L136.17 35.94 L136.57 36.01 L136.96 36.07 L137.36 36.14 L137.75 36.21 L138.15 36.28 L138.55 36.35 L138.94 36.43 L139.34 36.50 L139.74 36.58 L140.13 36.67 L140.53 36.75 L140.92 36.84 L141.32 36.93 L141.72 37.02 L142.11 37.11 L142.51 37.21 L142.91 37.30 L143.30 37.40 L143.70 37.50 L144.09 37.60 L144.49 37.71 L144.89 37.81 L145.28 37.92 L145.68 38.03 L146.07 38.15 L146.47 38.26 L146.87 38.37 L147.26 38.49 L147.66 38.61 L148.06 38.73 L148.45 38.85 L148.85 38.98 L149.24 39.10 L149.64 39.23 L150.04 39.36 L150.43 39.49 L150.83 39.63 L151.22 39.76 L151.62 39.89 L152.02 40.03 L152.41 40.17 L152.81 40.31 L153.21 40.45 L153.60 40.60 L154.00 40.74 L154.39 40.89 L154.79 41.04 L155.19 41.19 L155.58 41.34 L155.98 41.49 L156.37 41.64 L156.77 41.80 L157.17 41.95 L157.56 42.11 L157.96 42.27 L158.36 42.43 L158.75 42.59 L159.15 42.76 L159.54 42.92 L159.94 43.09 L160.34 43.25 L160.73 43.42 L161.13 43.59 L161.53 43.76 L161.92 43.94 L162.32 44.11 L162.71 44.29 L163.11 44.46 L163.51 44.64 L163.90 44.82 L164.30 45.00 L164.69 45.18 L165.09 45.36 L165.49 45.54 L165.88 45.73 L166.28 45.91 L166.68 46.10 L167.07 46.29 L167.47 46.48 L167.86 46.67 L168.26 46.86 L168.66 47.05 L169.05 47.24 L169.45 47.44 L169.84 47.63 L170.24 47.83 L170.64 48.03 L171.03 48.23 L171.43 48.42 L171.83 48.63 L172.22 48.83 L172.62 49.03 L173.01 49.23 L173.41 49.44 L173.81 49.64 L174.20 49.85 L174.60 50.06 L174.99 50.27 L175.39 50.48 L175.79 50.69 L176.18 50.90 L176.58 51.11 L176.98 51.33 L177.37 51.54 L177.77 51.76 L178.16 51.97 L178.56 52.19 L178.96 52.41 L179.35 52.63 L179.75 52.85 L180.15 53.07 L180.54 53.29 L180.94 53.51 L181.33 53.73 L181.73 53.96 L182.13 54.18 L182.52 54.41 L182.92 54.64 L183.31 54.87 L183.71 55.09 L184.11 55.32 L184.50 55.55 L184.90 55.79 L185.30 56.02 L185.69 56.25 L186.09 56.48 L186.48 56.72 L186.88 56.95 L187.28 57.19 L187.67 57.43 L188.07 57.66 L188.46 57.90 L188.86 58.14 L189.26 58.38 L189.65 58.62 L190.05 58.87 L190.45 59.11 L190.84 59.35 L191.24 59.60 L191.63 59.84 L192.03 60.09 L192.43 60.33 L192.82 60.58 L193.22 60.83 L193.61 61.08 L194.01 61.32 L194.41 61.57 L194.80 61.83 L195.20 62.08 L195.60 62.33 L195.99 62.58 L196.39 62.84 L196.78 63.09 L197.18 63.34 L197.58 63.60 L197.97 63.86 L198.37 64.11 L198.77 64.37 L199.16 64.63 L199.56 64.89 L199.95 65.15 L200.35 65.41 L200.75 65.67 L201.14 65.93 L201.54 66.20 L201.93 66.46 L202.33 66.73 L202.73 66.99 L203.12 67.26 L203.52 67.52 L203.92 67.79 L204.31 68.06 L204.71 68.32 L205.10 68.59 L205.50 68.86 L205.90 69.13 L206.29 69.40 L206.69 69.68 L207.08 69.95 L207.48 70.22 L207.88 70.49 L208.27 70.77 L208.67 71.04 L209.07 71.32 L209.46 71.59 L209.86 71.87 L210.25 72.15 L210.65 72.43 L211.05 72.70 L211.44 72.98 L211.84 73.26 L212.23 73.54 L212.63 73.83 L213.03 74.11 L213.42 74.39 L213.82 74.67 L214.22 74.96 L214.61 75.24 L215.01 75.52 L215.40 75.81 L215.80 76.10 L216.20 76.38 L216.59 76.67 L216.99 76.96 L217.39 77.25 L217.78 77.54 L218.18 77.83 L218.57 78.12 L218.97 78.41 L219.37 78.70 L219.76 78.99 L220.16 79.28 L220.55 79.58 L220.95 79.87 L221.35 80.17 L221.74 80.46 L222.14 80.76 L222.54 81.05 L222.93 81.35 L223.33 81.65 L223.72 81.94 L224.12 82.24 L224.52 82.54 L224.91 82.84 L225.31 83.14 L225.70 83.44 L226.10 83.75 L226.50 84.05 L226.89 84.35 L227.29 84.65 L227.69 84.96 L228.08 85.26 L228.48 85.57 L228.87 85.87 L229.27 86.18 L229.67 86.49 L230.06 86.79 L230.46 87.10 L230.85 87.41 L231.25 87.72 L231.65 88.03 L232.04 88.34 L232.44 88.65 L232.84 88.96 L233.23 89.27 L233.63 89.59 L234.02 89.90 L234.42 90.21 L234.82 90.53 L235.21 90.84 L235.61 91.16 L236.01 91.47 L236.40 91.79 L236.80 92.11 L237.19 92.43 L237.59 92.74 L237.99 93.06 L238.38 93.38 L238.78 93.70 L239.17 94.02 L239.57 94.34 L239.97 94.67 L240.36 94.99 L240.76 95.31 L241.16 95.63 L241.55 95.96 L241.95 96.28 L242.34 96.61 L242.74 96.93 L243.14 97.26 L243.53 97.59 L243.93 97.91 L244.32 98.24 L244.72 98.57 L245.12 98.90 L245.51 99.23 L245.91 99.56 L246.31 99.89 L246.70 100.22 L247.10 100.55 L247.49 100.89 L247.89 101.22 L248.29 101.55 L248.68 101.89 L249.08 102.22 L249.47 102.56 L249.87 102.89 L250.27 103.23 L250.66 103.56 L251.06 103.90 L251.46 104.24 L251.85 104.58 L252.25 104.92 L252.64 105.26 L253.04 105.60 L253.44 105.94 L253.83 106.28 L254.23 106.62 L254.63 106.96 L255.02 107.31 L255.42 107.65 L255.81 107.99 L256.21 108.34 L256.61 108.68 L257.00 109.03 L257.40 109.38 L257.79 109.72 L258.19 110.07 L258.59 110.42 L258.98 110.77 L259.38 111.11 L259.78 111.46 L260.17 111.81 L260.57 112.17 L260.96 112.52 L261.36 112.87 L261.76 113.22 L262.15 113.57 L262.55 113.93 L262.94 114.28 L263.34 114.63 L263.74 114.99 L264.13 115.35 L264.53 115.70 L264.93 116.06 L265.32 116.42 L265.72 116.77 L266.11 117.13 L266.51 117.49 L266.91 117.85 L267.30 118.21 L267.70 118.57 L268.09 118.93 L268.49 119.29 L268.89 119.65 L269.28 120.02 L269.68 120.38 L270.08 120.74 L270.47 121.11 L270.87 121.47 L271.26 121.84 L271.66 122.20 L272.06 122.57 L272.45 122.94 L272.85 123.30 L273.25 123.67 L273.64 124.04 L274.04 124.41 L274.43 124.78 L274.83 125.15 L275.23 125.52 L275.62 125.89 L276.02 126.26 L276.41 126.63 L276.81 127.01 L277.21 127.38 L277.60 127.75 L278.00 128.13 L278.40 128.50 L278.79 128.88 L279.19 129.25 L279.58 129.63 L279.98 130.01 L280.38 130.38 L280.77 130.76 L281.17 131.14 L281.56 131.52 L281.96 131.90 L282.36 132.28 L282.75 132.66 L283.15 133.04 L283.55 133.42 L283.94 133.80 L284.34 134.19 L284.73 134.57 L285.13 134.95 L285.53 135.34 L285.92 135.72 L286.32 136.10 L286.71 136.49 L287.11 136.88 L287.51 137.26 L287.90 137.65 L288.30 138.04 L288.70 138.42 L289.09 138.81 L289.49 139.20 L289.88 139.59 L290.28 139.98 L290.68 140.37 L291.07 140.76 L291.47 141.15 L291.87 141.54 L292.26 141.93 L292.66 142.32 L293.05 142.72 L293.45 143.11 L293.85 143.50 L294.24 143.90 L294.64 144.29 L295.03 144.69 L295.43 145.08 L295.83 145.48 L296.22 145.87 L296.62 146.27 L297.02 146.67 L297.41 147.06 L297.81 147.46 L298.20 147.86 L298.60 148.26 L299.00 148.66 L299.39 149.05 L299.79 149.45 L300.18 149.85 L300.58 150.25 L300.98 150.65 L301.37 151.06 L301.77 151.46 L302.17 151.86 L302.56 152.26 L302.96 152.66 L303.35 153.06 L303.75 153.47 L304.15 153.87 L304.54 154.27 L304.94 154.68 L305.33 155.08 L305.73 155.49 L306.13 155.89 L306.52 156.30 L306.92 156.70 L307.32 157.11 L307.71 157.51 L308.11 157.92 L308.50 158.32 L308.90 158.73 L309.30 159.14 L309.69 159.54 L310.09 159.95 L310.49 160.36 L310.88 160.76 L311.28 161.17 L311.67 161.58 L312.07 161.99 L312.47 162.39 L312.86 162.80 L313.26 163.21 L313.65 163.62 L314.05 164.03 L314.45 164.44 L314.84 164.84 L315.24 165.25 L315.64 165.66 L316.03 166.07 L316.43 166.48 L316.82 166.89 L317.22 167.30 L317.62 167.70 L318.01 168.11 L318.41 168.52 L318.80 168.93 L319.20 169.34 L319.60 169.75 L319.99 170.16 L320.39 170.56 L320.79 170.97 L321.18 171.38 L321.58 171.79 L321.97 172.19 L322.37 172.60 L322.77 173.01 L323.16 173.42 L323.56 173.82 L323.95 174.23 L324.35 174.63 L324.75 175.04 L325.14 175.45 L325.54 175.85 L325.94 176.26 L326.33 176.66 L326.73 177.06 L327.12 177.47 L327.52 177.87 L327.92 178.27 L328.31 178.68 L328.71 179.08 L329.11 179.48 L329.50 179.88 L329.90 180.28 L330.29 180.68 L330.69 181.08 L331.09 181.47 L331.48 181.87 L331.88 182.27 L332.27 182.66 L332.67 183.06 L333.07 183.45 L333.46 183.85 L333.86 184.24 L334.26 184.63 L334.65 185.02 L335.05 185.41 L335.44 185.80 L335.84 186.19 L336.24 186.57 L336.63 186.96 L337.03 187.34 L337.42 187.73 L337.82 188.11 L338.22 188.49 L338.61 188.87 L339.01 189.24 L339.41 189.62 L339.80 190.00 L340.20 190.37 L340.59 190.74 L340.99 191.11 L341.39 191.48 L341.78 191.85 L342.18 192.22 L342.57 192.58 L342.97 192.94 L343.37 193.30 L343.76 193.66 L344.16 194.02 L344.56 194.37 L344.95 194.73 L345.35 195.08 L345.74 195.43 L346.14 195.77 L346.54 196.12 L346.93 196.46 L347.33 196.80 L347.73 197.13 L348.12 197.47 L348.52 197.80 L348.91 198.13 L349.31 198.46 L349.71 198.78 L350.10 199.10 L350.50 199.42 L350.89 199.74 L351.29 200.05 L351.69 200.36 L352.08 200.67 L352.48 200.97 L352.88 201.27 L353.27 201.57 L353.67 201.87 L354.06 202.16 L354.46 202.44 L354.86 202.73 L355.25 203.01 L355.65 203.28 L356.04 203.56 L356.44 203.82 L356.84 204.09 L357.23 204.35 L357.63 204.61 L358.03 204.86 L358.42 205.11 L358.82 205.35 L359.21 205.59 L359.61 205.83 L360.01 206.06 L360.40 206.28 L360.80 206.51 L361.19 206.72 L361.59 206.94 L361.99 207.14 L362.38 207.35 L362.78 207.54 L363.18 207.74 L363.57 207.93 L363.97 208.11 L364.36 208.29 L364.76 208.46 L365.16 208.63 L365.55 208.79 L365.95 208.95 L366.35 209.10 L366.74 209.24 L367.14 209.39 L367.53 209.52 L367.93 209.65 L368.33 209.78 L368.72 209.90 L369.12 210.01 L369.51 210.12 L369.91 210.22 L370.31 210.32 L370.70 210.42 L371.10 210.50 L371.50 210.59 L371.89 210.67 L372.29 210.74 L372.68 210.81 L373.08 210.87 L373.48 210.93 L373.87 210.98 L374.27 211.03 L374.66 211.08 L375.06 211.12 L375.46 211.16 L375.85 211.19 L376.25 211.23 L376.65 211.25 L377.04 211.28 L377.44 211.30 L377.83 211.32 L378.23 211.33 L378.63 211.35 L379.02 211.36 L379.42 211.37 L379.81 211.37 L380.21 211.38 L380.61 211.39 L381.00 211.39 L381.40 211.39 L381.80 211.39 L382.19 211.40 L382.59 211.40 L382.98 211.40 L383.38 211.40 L383.78 211.40 L384.17 211.40 L384.57 211.40 L384.97 211.40 L385.36 211.40 L385.76 211.40 L386.15 211.40 L386.55 211.40 L386.95 211.40 L387.34 211.40 L387.74 211.40 L388.13 211.40 L388.53 211.40 L388.93 211.40 L389.32 211.40 L389.72 211.40 L390.12 211.40 L390.51 211.40 L390.91 211.40 L391.30 211.40 L391.70 211.40 L392.70 211.40" stroke="#996633" stroke-dasharray="10.5 3.95 10.5 3.95 3.55 3.95" stroke-dashoffset="-1"/>
<path d="M58.50 212.40 L58.50 211.40 L58.54 211.40 L58.58 211.40 L58.63 211.40 L58.67 211.40 L58.71 211.40 L58.75 211.40 L58.79 211.39 L58.83 211.38 L58.88 211.36 L58.92 211.32 L58.96 211.25 L59.00 211.16 L59.04 211.03 L59.08 210.86 L59.13 210.66 L59.17 210.42 L59.21 210.13 L59.25 209.81 L59.29 209.46 L59.34 209.06 L59.38 208.64 L59.42 208.17 L59.46 207.68 L59.50 207.16 L59.54 206.62 L59.59 206.05 L59.63 205.45 L59.67 204.84 L59.71 204.20 L59.75 203.55 L59.79 202.88 L59.84 202.20 L59.88 201.51 L59.92 200.80 L59.96 200.08 L60.00 199.36 L60.04 198.62 L60.09 197.88 L60.13 197.13 L60.17 196.38 L60.21 195.62 L60.25 194.86 L60.30 194.09 L60.34 193.32 L60.38 192.55 L60.42 191.78 L60.46 191.01 L60.50 190.23 L60.55 189.46 L60.59 188.68 L60.63 187.91 L60.67 187.14 L60.71 186.37 L60.75 185.60 L60.80 184.83 L60.84 184.06 L60.88 183.30 L60.92 182.54 L60.96 181.78 L61.01 181.02 L61.05 180.27 L61.09 179.52 L61.13 178.77 L61.17 178.03 L61.21 177.29 L61.26 176.55 L61.30 175.82 L61.34 175.09 L61.38 174.36 L61.42 173.64 L61.46 172.92 L61.51 172.20 L61.55 171.49 L61.59 170.78 L61.63 170.08 L61.67 169.38 L61.72 168.69 L61.76 167.99 L61.80 167.31 L61.84 166.62 L61.88 165.94 L61.92 165.27 L61.97 164.60 L62.01 163.93 L62.05 163.27 L62.09 162.61 L62.13 161.95 L62.17 161.30 L62.22 160.65 L62.26 160.01 L62.30 159.37 L62.34 158.74 L62.38 158.10 L62.42 157.48 L62.47 156.85 L62.51 156.23 L62.55 155.62 L62.59 155.01 L62.63 154.40 L62.68 153.79 L62.72 153.19 L62.76 152.60 L62.80 152.00 L62.84 151.42 L62.88 150.83 L62.93 150.25 L62.97 149.67 L63.01 149.10 L63.05 148.52 L63.09 147.96 L63.13 147.39 L63.18 146.83 L63.22 146.28 L63.26 145.72 L63.30 145.17 L63.34 144.63 L63.39 144.08 L63.43 143.55 L63.47 143.01 L63.51 142.48 L63.55 141.95 L63.59 141.42 L63.64 140.90 L63.68 140.38 L63.72 139.86 L63.76 139.35 L63.80 138.84 L63.84 138.33 L63.89 137.82 L63.93 137.32 L63.97 136.83 L64.01 136.33 L64.05 135.84 L64.10 135.35 L64.14 134.86 L64.18 134.38 L64.22 133.90 L64.26 133.42 L64.30 132.95 L64.35 132.48 L64.39 132.01 L64.43 131.54 L64.47 131.08 L64.51 130.62 L64.55 130.16 L64.60 129.70 L64.64 129.25 L64.68 128.80 L64.72 128.35 L64.76 127.91 L64.80 127.47 L64.85 127.03 L64.89 126.59 L64.93 126.16 L64.97 125.72 L65.01 125.29 L65.06 124.87 L65.10 124.44 L65.14 124.02 L65.18 123.60 L65.22 123.18 L65.26 122.77 L65.31 122.35 L65.35 121.94 L65.39 121.54 L65.43 121.13 L65.47 120.73 L65.51 120.32 L65.56 119.93 L65.60 119.53 L65.64 119.13 L65.68 118.74 L65.72 118.35 L65.77 117.96 L65.81 117.58 L65.85 117.19 L65.89 116.81 L65.93 116.43 L65.97 116.05 L66.02 115.68 L66.06 115.30 L66.10 114.93 L66.14 114.56 L66.18 114.19 L66.22 113.83 L66.27 113.47 L66.31 113.10 L66.35 112.74 L66.39 112.39 L66.43 112.03 L66.48 111.68 L66.52 111.32 L66.56 110.97 L66.60 110.62 L66.64 110.28 L66.68 109.93 L66.73 109.59 L66.77 109.25 L66.81 108.91 L66.85 108.57 L66.89 108.23 L66.93 107.90 L66.98 107.57 L67.02 107.24 L67.06 106.91 L67.10 106.58 L67.14 106.25 L67.18 105.93 L67.23 105.61 L67.27 105.29 L67.31 104.97 L67.35 104.65 L67.39 104.33 L67.44 104.02 L67.48 103.71 L67.52 103.39 L67.56 103.08 L67.60 102.78 L67.64 102.47 L67.69 102.16 L67.73 101.86 L67.77 101.56 L67.81 101.26 L67.85 100.96 L67.89 100.66 L67.94 100.36 L67.98 100.07 L68.02 99.78 L68.06 99.48 L68.10 99.19 L68.15 98.90 L68.19 98.62 L68.23 98.33 L68.27 98.04 L68.31 97.76 L68.35 97.48 L68.40 97.20 L68.44 96.92 L68.48 96.64 L68.52 96.36 L68.56 96.09 L68.60 95.81 L68.65 95.54 L68.69 95.27 L68.73 95.00 L68.77 94.73 L68.81 94.46 L68.86 94.19 L68.90 93.93 L68.94 93.67 L68.98 93.40 L69.02 93.14 L69.06 92.88 L69.11 92.62 L69.15 92.36 L69.19 92.11 L69.23 91.85 L69.27 91.60 L69.31 91.34 L69.36 91.09 L69.40 90.84 L69.44 90.59 L69.48 90.34 L69.52 90.09 L69.56 89.85 L69.61 89.60 L69.65 89.36 L69.69 89.11 L69.73 88.87 L69.77 88.63 L69.82 88.39 L69.86 88.15 L69.90 87.92 L69.94 87.68 L69.98 87.44 L70.02 87.21 L70.07 86.98 L70.11 86.74 L70.15 86.51 L70.19 86.28 L70.23 86.05 L70.27 85.82 L70.32 85.60 L70.36 85.37 L70.40 85.15 L70.44 84.92 L70.48 84.70 L70.53 84.48 L70.57 84.26 L70.61 84.03 L70.65 83.82 L70.69 83.60 L70.73 83.38 L70.78 83.16 L70.82 82.95 L70.86 82.73 L70.90 82.52 L70.94 82.31 L70.98 82.09 L71.03 81.88 L71.07 81.67 L71.11 81.46 L71.15 81.26 L71.19 81.05 L71.24 80.84 L71.28 80.64 L71.32 80.43 L71.36 80.23 L71.40 80.03 L71.44 79.82 L71.49 79.62 L71.53 79.42 L71.57 79.22 L71.61 79.02 L71.65 78.83 L71.69 78.63 L71.74 78.43 L71.78 78.24 L71.82 78.04 L71.86 77.85 L71.90 77.66 L71.94 77.46 L71.99 77.27 L72.03 77.08 L72.07 76.89 L72.11 76.70 L72.15 76.52 L72.20 76.33 L72.24 76.14 L72.28 75.96 L72.32 75.77 L72.36 75.59 L72.40 75.40 L72.45 75.22 L72.49 75.04 L72.53 74.86 L72.57 74.68 L72.61 74.50 L72.65 74.32 L72.70 74.14 L72.74 73.96 L72.78 73.79 L72.82 73.61 L72.86 73.43 L72.91 73.26 L72.95 73.09 L72.99 72.91 L73.03 72.74 L73.07 72.57 L73.11 72.40 L73.16 72.23 L73.20 72.06 L73.24 71.89 L73.28 71.72 L73.32 71.55 L73.36 71.38 L73.41 71.22 L73.45 71.05 L73.49 70.89 L73.53 70.72 L73.57 70.56 L73.62 70.40 L73.66 70.23 L73.70 70.07 L73.74 69.91 L73.78 69.75 L73.82 69.59 L73.87 69.43 L73.91 69.27 L73.95 69.11 L73.99 68.96 L74.03 68.80 L74.07 68.64 L74.12 68.49 L74.16 68.33 L74.20 68.18 L74.24 68.03 L74.28 67.87 L74.32 67.72 L74.37 67.57 L74.41 67.42 L74.45 67.27 L74.49 67.12 L74.53 66.97 L74.58 66.82 L74.62 66.67 L74.66 66.52 L74.70 66.37 L74.74 66.23 L74.78 66.08 L74.83 65.94 L74.87 65.79 L74.91 65.65 L74.95 65.50 L74.99 65.36 L75.03 65.22 L75.08 65.07 L75.12 64.93 L75.16 64.79 L75.56 63.48 L75.95 62.22 L76.35 61.00 L76.74 59.82 L77.14 58.68 L77.54 57.58 L77.93 56.53 L78.33 55.50 L78.73 54.51 L79.12 53.56 L79.52 52.64 L79.91 51.75 L80.31 50.89 L80.71 50.05 L81.10 49.25 L81.50 48.47 L81.89 47.72 L82.29 46.99 L82.69 46.29 L83.08 45.61 L83.48 44.95 L83.88 44.32 L84.27 43.71 L84.67 43.11 L85.06 42.54 L85.46 41.98 L85.86 41.45 L86.25 40.93 L86.65 40.43 L87.05 39.95 L87.44 39.48 L87.84 39.03 L88.23 38.59 L88.63 38.17 L89.03 37.76 L89.42 37.37 L89.82 36.99 L90.21 36.62 L90.61 36.27 L91.01 35.93 L91.40 35.60 L91.80 35.29 L92.20 34.98 L92.59 34.69 L92.99 34.41 L93.38 34.14 L93.78 33.88 L94.18 33.63 L94.57 33.39 L94.97 33.15 L95.36 32.93 L95.76 32.72 L96.16 32.52 L96.55 32.32 L96.95 32.13 L97.35 31.96 L97.74 31.79 L98.14 31.62 L98.53 31.47 L98.93 31.32 L99.33 31.18 L99.72 31.05 L100.12 30.93 L100.51 30.81 L100.91 30.70 L101.31 30.59 L101.70 30.49 L102.10 30.40 L102.50 30.31 L102.89 30.23 L103.29 30.16 L103.68 30.09 L104.08 30.03 L104.48 29.97 L104.87 29.92 L105.27 29.87 L105.67 29.83 L106.06 29.79 L106.46 29.76 L106.85 29.74 L107.25 29.71 L107.65 29.70 L108.04 29.68 L108.44 29.67 L108.83 29.67 L109.23 29.67 L109.63 29.68 L110.02 29.68 L110.42 29.70 L110.82 29.71 L111.21 29.73 L111.61 29.76 L112.00 29.79 L112.40 29.82 L112.80 29.85 L113.19 29.89 L113.59 29.93 L113.98 29.98 L114.38 30.03 L114.78 30.08 L115.17 30.14 L115.57 30.19 L115.97 30.26 L116.36 30.32 L116.76 30.39 L117.15 30.46 L117.55 30.53 L117.95 30.61 L118.34 30.69 L118.74 30.77 L119.13 30.85 L119.53 30.94 L119.93 31.03 L120.32 31.12 L120.72 31.22 L121.12 31.32 L121.51 31.42 L121.91 31.52 L122.30 31.62 L122.70 31.73 L123.10 31.84 L123.49 31.95 L123.89 32.06 L124.29 32.18 L124.68 32.30 L125.08 32.42 L125.47 32.54 L125.87 32.66 L126.27 32.79 L126.66 32.92 L127.06 33.05 L127.45 33.18 L127.85 33.31 L128.25 33.45 L128.64 33.59 L129.04 33.73 L129.44 33.87 L129.83 34.01 L130.23 34.15 L130.62 34.30 L131.02 34.45 L131.42 34.60 L131.81 34.75 L132.21 34.90 L132.60 35.05 L133.00 35.21 L133.40 35.37 L133.79 35.53 L134.19 35.69 L134.59 35.85 L134.98 36.01 L135.38 36.18 L135.77 36.34 L136.17 36.51 L136.57 36.68 L136.96 36.85 L137.36 37.02 L137.75 37.19 L138.15 37.37 L138.55 37.54 L138.94 37.72 L139.34 37.90 L139.74 38.08 L140.13 38.26 L140.53 38.44 L140.92 38.62 L141.32 38.81 L141.72 38.99 L142.11 39.18 L142.51 39.36 L142.91 39.55 L143.30 39.74 L143.70 39.93 L144.09 40.12 L144.49 40.32 L144.89 40.51 L145.28 40.71 L145.68 40.90 L146.07 41.10 L146.47 41.30 L146.87 41.50 L147.26 41.70 L147.66 41.90 L148.06 42.10 L148.45 42.30 L148.85 42.51 L149.24 42.71 L149.64 42.92 L150.04 43.12 L150.43 43.33 L150.83 43.54 L151.22 43.75 L151.62 43.96 L152.02 44.17 L152.41 44.38 L152.81 44.59 L153.21 44.81 L153.60 45.02 L154.00 45.23 L154.39 45.45 L154.79 45.67 L155.19 45.88 L155.58 46.10 L155.98 46.32 L156.37 46.54 L156.77 46.76 L157.17 46.98 L157.56 47.21 L157.96 47.43 L158.36 47.65 L158.75 47.88 L159.15 48.10 L159.54 48.33 L159.94 48.55 L160.34 48.78 L160.73 49.01 L161.13 49.24 L161.53 49.47 L161.92 49.70 L162.32 49.93 L162.71 50.16 L163.11 50.39 L163.51 50.62 L163.90 50.85 L164.30 51.09 L164.69 51.32 L165.09 51.56 L165.49 51.79 L165.88 52.03 L166.28 52.27 L166.68 52.50 L167.07 52.74 L167.47 52.98 L167.86 53.22 L168.26 53.46 L168.66 53.70 L169.05 53.94 L169.45 54.18 L169.84 54.43 L170.24 54.67 L170.64 54.91 L171.03 55.16 L171.43 55.40 L171.83 55.64 L172.22 55.89 L172.62 56.14 L173.01 56.38 L173.41 56.63 L173.81 56.88 L174.20 57.13 L174.60 57.38 L174.99 57.63 L175.39 57.88 L175.79 58.13 L176.18 58.38 L176.58 58.63 L176.98 58.88 L177.37 59.13 L177.77 59.39 L178.16 59.64 L178.56 59.89 L178.96 60.15 L179.35 60.40 L179.75 60.66 L180.15 60.91 L180.54 61.17 L180.94 61.43 L181.33 61.69 L181.73 61.94 L182.13 62.20 L182.52 62.46 L182.92 62.72 L183.31 62.98 L183.71 63.24 L184.11 63.50 L184.50 63.76 L184.90 64.02 L185.30 64.29 L185.69 64.55 L186.09 64.81 L186.48 65.07 L186.88 65.34 L187.28 65.60 L187.67 65.87 L188.07 66.13 L188.46 66.40 L188.86 66.66 L189.26 66.93 L189.65 67.20 L190.05 67.47 L190.45 67.73 L190.84 68.00 L191.24 68.27 L191.63 68.54 L192.03 68.81 L192.43 69.08 L192.82 69.35 L193.22 69.62 L193.61 69.89 L194.01 70.16 L194.41 70.44 L194.80 70.71 L195.20 70.98 L195.60 71.25 L195.99 71.53 L196.39 71.80 L196.78 72.08 L197.18 72.35 L197.58 72.63 L197.97 72.90 L198.37 73.18 L198.77 73.46 L199.16 73.73 L199.56 74.01 L199.95 74.29 L200.35 74.57 L200.75 74.85 L201.14 75.12 L201.54 75.40 L201.93 75.68 L202.33 75.96 L202.73 76.24 L203.12 76.53 L203.52 76.81 L203.92 77.09 L204.31 77.37 L204.71 77.65 L205.10 77.94 L205.50 78.22 L205.90 78.50 L206.29 78.79 L206.69 79.07 L207.08 79.36 L207.48 79.64 L207.88 79.93 L208.27 80.21 L208.67 80.50 L209.07 80.78 L209.46 81.07 L209.86 81.36 L210.25 81.65 L210.65 81.94 L211.05 82.22 L211.44 82.51 L211.84 82.80 L212.23 83.09 L212.63 83.38 L213.03 83.67 L213.42 83.96 L213.82 84.25 L214.22 84.54 L214.61 84.84 L215.01 85.13 L215.40 85.42 L215.80 85.71 L216.20 86.01 L216.59 86.30 L216.99 86.59 L217.39 86.89 L217.78 87.18 L218.18 87.48 L218.57 87.77 L218.97 88.07 L219.37 88.37 L219.76 88.66 L220.16 88.96 L220.55 89.26 L220.95 89.55 L221.35 89.85 L221.74 90.15 L222.14 90.45 L222.54 90.75 L222.93 91.05 L223.33 91.35 L223.72 91.65 L224.12 91.95 L224.52 92.25 L224.91 92.55 L225.31 92.85 L225.70 93.15 L226.10 93.45 L226.50 93.76 L226.89 94.06 L227.29 94.36 L227.69 94.67 L228.08 94.97 L228.48 95.27 L228.87 95.58 L229.27 95.88 L229.67 96.19 L230.06 96.50 L230.46 96.80 L230.85 97.11 L231.25 97.41 L231.65 97.72 L232.04 98.03 L232.44 98.34 L232.84 98.64 L233.23 98.95 L233.63 99.26 L234.02 99.57 L234.42 99.88 L234.82 100.19 L235.21 100.50 L235.61 100.81 L236.01 101.12 L236.40 101.43 L236.80 101.74 L237.19 102.06 L237.59 102.37 L237.99 102.68 L238.38 102.99 L238.78 103.31 L239.17 103.62 L239.57 103.93 L239.97 104.25 L240.36 104.56 L240.76 104.88 L241.16 105.19 L241.55 105.51 L241.95 105.82 L242.34 106.14 L242.74 106.46 L243.14 106.77 L243.53 107.09 L243.93 107.41 L244.32 107.73 L244.72 108.05 L245.12 108.36 L245.51 108.68 L245.91 109.00 L246.31 109.32 L246.70 109.64 L247.10 109.96 L247.49 110.28 L247.89 110.60 L248.29 110.93 L248.68 111.25 L249.08 111.57 L249.47 111.89 L249.87 112.22 L250.27 112.54 L250.66 112.86 L251.06 113.19 L251.46 113.51 L251.85 113.83 L252.25 114.16 L252.64 114.48 L253.04 114.81 L253.44 115.13 L253.83 115.46 L254.23 115.79 L254.63 116.11 L255.02 116.44 L255.42 116.77 L255.81 117.10 L256.21 117.42 L256.61 117.75 L257.00 118.08 L257.40 118.41 L257.79 118.74 L258.19 119.07 L258.59 119.40 L258.98 119.73 L259.38 120.06 L259.78 120.39 L260.17 120.72 L260.57 121.06 L260.96 121.39 L261.36 121.72 L261.76 122.05 L262.15 122.39 L262.55 122.72 L262.94 123.05 L263.34 123.39 L263.74 123.72 L264.13 124.06 L264.53 124.39 L264.93 124.73 L265.32 125.06 L265.72 125.40 L266.11 125.73 L266.51 126.07 L266.91 126.41 L267.30 126.75 L267.70 127.08 L268.09 127.42 L268.49 127.76 L268.89 128.10 L269.28 128.44 L269.68 128.78 L270.08 129.12 L270.47 129.46 L270.87 129.80 L271.26 130.14 L271.66 130.48 L272.06 130.82 L272.45 131.16 L272.85 131.50 L273.25 131.84 L273.64 132.19 L274.04 132.53 L274.43 132.87 L274.83 133.22 L275.23 133.56 L275.62 133.90 L276.02 134.25 L276.41 134.59 L276.81 134.94 L277.21 135.28 L277.60 135.63 L278.00 135.97 L278.40 136.32 L278.79 136.67 L279.19 137.01 L279.58 137.36 L279.98 137.71 L280.38 138.06 L280.77 138.40 L281.17 138.75 L281.56 139.10 L281.96 139.45 L282.36 139.80 L282.75 140.15 L283.15 140.50 L283.55 140.85 L283.94 141.20 L284.34 141.55 L284.73 141.90 L285.13 142.25 L285.53 142.60 L285.92 142.95 L286.32 143.31 L286.71 143.66 L287.11 144.01 L287.51 144.36 L287.90 144.72 L288.30 145.07 L288.70 145.42 L289.09 145.78 L289.49 146.13 L289.88 146.49 L290.28 146.84 L290.68 147.20 L291.07 147.55 L291.47 147.91 L291.87 148.26 L292.26 148.62 L292.66 148.98 L293.05 149.33 L293.45 149.69 L293.85 150.05 L294.24 150.40 L294.64 150.76 L295.03 151.12 L295.43 151.48 L295.83 151.84 L296.22 152.19 L296.62 152.55 L297.02 152.91 L297.41 153.27 L297.81 153.63 L298.20 153.99 L298.60 154.35 L299.00 154.71 L299.39 155.07 L299.79 155.43 L300.18 155.79 L300.58 156.15 L300.98 156.51 L301.37 156.87 L301.77 157.23 L302.17 157.60 L302.56 157.96 L302.96 158.32 L303.35 158.68 L303.75 159.04 L304.15 159.41 L304.54 159.77 L304.94 160.13 L305.33 160.49 L305.73 160.86 L306.13 161.22 L306.52 161.58 L306.92 161.95 L307.32 162.31 L307.71 162.67 L308.11 163.04 L308.50 163.40 L308.90 163.77 L309.30 164.13 L309.69 164.49 L310.09 164.86 L310.49 165.22 L310.88 165.59 L311.28 165.95 L311.67 166.32 L312.07 166.68 L312.47 167.04 L312.86 167.41 L313.26 167.77 L313.65 168.14 L314.05 168.50 L314.45 168.87 L314.84 169.23 L315.24 169.60 L315.64 169.96 L316.03 170.33 L316.43 170.69 L316.82 171.05 L317.22 171.42 L317.62 171.78 L318.01 172.15 L318.41 172.51 L318.80 172.88 L319.20 173.24 L319.60 173.60 L319.99 173.97 L320.39 174.33 L320.79 174.69 L321.18 175.06 L321.58 175.42 L321.97 175.78 L322.37 176.15 L322.77 176.51 L323.16 176.87 L323.56 177.23 L323.95 177.60 L324.35 177.96 L324.75 178.32 L325.14 178.68 L325.54 179.04 L325.94 179.40 L326.33 179.76 L326.73 180.12 L327.12 180.48 L327.52 180.84 L327.92 181.20 L328.31 181.55 L328.71 181.91 L329.11 182.27 L329.50 182.63 L329.90 182.98 L330.29 183.34 L330.69 183.69 L331.09 184.05 L331.48 184.40 L331.88 184.75 L332.27 185.11 L332.67 185.46 L333.07 185.81 L333.46 186.16 L333.86 186.51 L334.26 186.86 L334.65 187.21 L335.05 187.56 L335.44 187.90 L335.84 188.25 L336.24 188.59 L336.63 188.94 L337.03 189.28 L337.42 189.62 L337.82 189.97 L338.22 190.31 L338.61 190.65 L339.01 190.98 L339.41 191.32 L339.80 191.66 L340.20 191.99 L340.59 192.33 L340.99 192.66 L341.39 192.99 L341.78 193.32 L342.18 193.65 L342.57 193.98 L342.97 194.30 L343.37 194.63 L343.76 194.95 L344.16 195.27 L344.56 195.59 L344.95 195.91 L345.35 196.22 L345.74 196.54 L346.14 196.85 L346.54 197.16 L346.93 197.47 L347.33 197.78 L347.73 198.08 L348.12 198.39 L348.52 198.69 L348.91 198.99 L349.31 199.28 L349.71 199.58 L350.10 199.87 L350.50 200.16 L350.89 200.45 L351.29 200.73 L351.69 201.02 L352.08 201.30 L352.48 201.57 L352.88 201.85 L353.27 202.12 L353.67 202.39 L354.06 202.66 L354.46 202.92 L354.86 203.18 L355.25 203.44 L355.65 203.69 L356.04 203.95 L356.44 204.19 L356.84 204.44 L357.23 204.68 L357.63 204.92 L358.03 205.15 L358.42 205.38 L358.82 205.61 L359.21 205.83 L359.61 206.05 L360.01 206.27 L360.40 206.48 L360.80 206.69 L361.19 206.89 L361.59 207.09 L361.99 207.29 L362.38 207.48 L362.78 207.66 L363.18 207.85 L363.57 208.03 L363.97 208.20 L364.36 208.37 L364.76 208.53 L365.16 208.69 L365.55 208.85 L365.95 209.00 L366.35 209.14 L366.74 209.28 L367.14 209.42 L367.53 209.55 L367.93 209.67 L368.33 209.80 L368.72 209.91 L369.12 210.02 L369.51 210.13 L369.91 210.23 L370.31 210.33 L370.70 210.42 L371.10 210.50 L371.50 210.59 L371.89 210.66 L372.29 210.74 L372.68 210.80 L373.08 210.87 L373.48 210.93 L373.87 210.98 L374.27 211.03 L374.66 211.08 L375.06 211.12 L375.46 211.16 L375.85 211.19 L376.25 211.22 L376.65 211.25 L377.04 211.27 L377.44 211.29 L377.83 211.31 L378.23 211.33 L378.63 211.34 L379.02 211.36 L379.42 211.37 L379.81 211.37 L380.21 211.38 L380.61 211.39 L381.00 211.39 L381.40 211.39 L381.80 211.39 L382.19 211.40 L382.59 211.40 L382.98 211.40 L383.38 211.40 L383.78 211.40 L384.17 211.40 L384.57 211.40 L384.97 211.40 L385.36 211.40 L385.76 211.40 L386.15 211.40 L386.55 211.40 L386.95 211.40 L387.34 211.40 L387.74 211.40 L388.13 211.40 L388.53 211.40 L388.93 211.40 L389.32 211.40 L389.72 211.40 L390.12 211.40 L390.51 211.40 L390.91 211.40 L391.30 211.40 L391.70 211.40 L392.70 211.40" stroke="#ff0000" stroke-dasharray="6.1 2.825" stroke-dashoffset="-1"/>
<path d="M58.50 212.40 L58.50 211.40 L58.54 211.40 L58.58 211.40 L58.63 211.40 L58.67 211.40 L58.71 211.40 L58.75 211.40 L58.79 211.40 L58.83 211.40 L58.88 211.40 L58.92 211.40 L58.96 211.40 L59.00 211.39 L59.04 211.38 L59.08 211.36 L59.13 211.33 L59.17 211.28 L59.21 211.22 L59.25 211.12 L59.29 211.00 L59.34 210.84 L59.38 210.65 L59.42 210.42 L59.46 210.15 L59.50 209.83 L59.54 209.47 L59.59 209.06 L59.63 208.61 L59.67 208.12 L59.71 207.58 L59.75 206.99 L59.79 206.37 L59.84 205.71 L59.88 205.00 L59.92 204.26 L59.96 203.49 L60.00 202.68 L60.04 201.84 L60.09 200.98 L60.13 200.08 L60.17 199.16 L60.21 198.22 L60.25 197.26 L60.30 196.27 L60.34 195.27 L60.38 194.25 L60.42 193.22 L60.46 192.18 L60.50 191.12 L60.55 190.05 L60.59 188.98 L60.63 187.89 L60.67 186.80 L60.71 185.71 L60.75 184.61 L60.80 183.50 L60.84 182.40 L60.88 181.29 L60.92 180.18 L60.96 179.07 L61.01 177.96 L61.05 176.86 L61.09 175.75 L61.13 174.65 L61.17 173.55 L61.21 172.46 L61.26 171.37 L61.30 170.28 L61.34 169.20 L61.38 168.12 L61.42 167.05 L61.46 165.98 L61.51 164.92 L61.55 163.87 L61.59 162.82 L61.63 161.78 L61.67 160.74 L61.72 159.71 L61.76 158.69 L61.80 157.68 L61.84 156.68 L61.88 155.68 L61.92 154.69 L61.97 153.70 L62.01 152.73 L62.05 151.76 L62.09 150.80 L62.13 149.85 L62.17 148.91 L62.22 147.97 L62.26 147.04 L62.30 146.12 L62.34 145.21 L62.38 144.31 L62.42 143.41 L62.47 142.52 L62.51 141.64 L62.55 140.77 L62.59 139.91 L62.63 139.05 L62.68 138.20 L62.72 137.36 L62.76 136.53 L62.80 135.70 L62.84 134.88 L62.88 134.07 L62.93 133.27 L62.97 132.47 L63.01 131.68 L63.05 130.90 L63.09 130.13 L63.13 129.36 L63.18 128.60 L63.22 127.85 L63.26 127.10 L63.30 126.36 L63.34 125.63 L63.39 124.90 L63.43 124.19 L63.47 123.47 L63.51 122.77 L63.55 122.07 L63.59 121.38 L63.64 120.69 L63.68 120.01 L63.72 119.34 L63.76 118.67 L63.80 118.01 L63.84 117.36 L63.89 116.71 L63.93 116.07 L63.97 115.43 L64.01 114.80 L64.05 114.17 L64.10 113.55 L64.14 112.94 L64.18 112.33 L64.22 111.73 L64.26 111.13 L64.30 110.54 L64.35 109.95 L64.39 109.37 L64.43 108.80 L64.47 108.22 L64.51 107.66 L64.55 107.10 L64.60 106.54 L64.64 105.99 L64.68 105.44 L64.72 104.90 L64.76 104.37 L64.80 103.84 L64.85 103.31 L64.89 102.79 L64.93 102.27 L64.97 101.76 L65.01 101.25 L65.06 100.74 L65.10 100.24 L65.14 99.75 L65.18 99.25 L65.22 98.77 L65.26 98.28 L65.31 97.80 L65.35 97.33 L65.39 96.86 L65.43 96.39 L65.47 95.93 L65.51 95.47 L65.56 95.01 L65.60 94.56 L65.64 94.11 L65.68 93.67 L65.72 93.23 L65.77 92.79 L65.81 92.36 L65.85 91.93 L65.89 91.50 L65.93 91.08 L65.97 90.66 L66.02 90.25 L66.06 89.83 L66.10 89.42 L66.14 89.02 L66.18 88.62 L66.22 88.22 L66.27 87.82 L66.31 87.43 L66.35 87.04 L66.39 86.65 L66.43 86.27 L66.48 85.89 L66.52 85.51 L66.56 85.13 L66.60 84.76 L66.64 84.39 L66.68 84.03 L66.73 83.66 L66.77 83.30 L66.81 82.94 L66.85 82.59 L66.89 82.24 L66.93 81.89 L66.98 81.54 L67.02 81.20 L67.06 80.85 L67.10 80.51 L67.14 80.18 L67.18 79.84 L67.23 79.51 L67.27 79.18 L67.31 78.86 L67.35 78.53 L67.39 78.21 L67.44 77.89 L67.48 77.57 L67.52 77.26 L67.56 76.95 L67.60 76.63 L67.64 76.33 L67.69 76.02 L67.73 75.72 L67.77 75.42 L67.81 75.12 L67.85 74.82 L67.89 74.52 L67.94 74.23 L67.98 73.94 L68.02 73.65 L68.06 73.36 L68.10 73.08 L68.15 72.80 L68.19 72.52 L68.23 72.24 L68.27 71.96 L68.31 71.68 L68.35 71.41 L68.40 71.14 L68.44 70.87 L68.48 70.60 L68.52 70.34 L68.56 70.07 L68.60 69.81 L68.65 69.55 L68.69 69.29 L68.73 69.04 L68.77 68.78 L68.81 68.53 L68.86 68.28 L68.90 68.03 L68.94 67.78 L68.98 67.53 L69.02 67.29 L69.06 67.04 L69.11 66.80 L69.15 66.56 L69.19 66.32 L69.23 66.09 L69.27 65.85 L69.31 65.62 L69.36 65.38 L69.40 65.15 L69.44 64.92 L69.48 64.70 L69.52 64.47 L69.56 64.24 L69.61 64.02 L69.65 63.80 L69.69 63.58 L69.73 63.36 L69.77 63.14 L69.82 62.92 L69.86 62.71 L69.90 62.49 L69.94 62.28 L69.98 62.07 L70.02 61.86 L70.07 61.65 L70.11 61.44 L70.15 61.24 L70.19 61.03 L70.23 60.83 L70.27 60.63 L70.32 60.43 L70.36 60.23 L70.40 60.03 L70.44 59.83 L70.48 59.64 L70.53 59.44 L70.57 59.25 L70.61 59.06 L70.65 58.86 L70.69 58.67 L70.73 58.49 L70.78 58.30 L70.82 58.11 L70.86 57.92 L70.90 57.74 L70.94 57.56 L70.98 57.37 L71.03 57.19 L71.07 57.01 L71.11 56.83 L71.15 56.66 L71.19 56.48 L71.24 56.30 L71.28 56.13 L71.32 55.95 L71.36 55.78 L71.40 55.61 L71.44 55.44 L71.49 55.27 L71.53 55.10 L71.57 54.93 L71.61 54.76 L71.65 54.60 L71.69 54.43 L71.74 54.27 L71.78 54.11 L71.82 53.94 L71.86 53.78 L71.90 53.62 L71.94 53.46 L71.99 53.30 L72.03 53.15 L72.07 52.99 L72.11 52.83 L72.15 52.68 L72.20 52.53 L72.24 52.37 L72.28 52.22 L72.32 52.07 L72.36 51.92 L72.40 51.77 L72.45 51.62 L72.49 51.47 L72.53 51.32 L72.57 51.18 L72.61 51.03 L72.65 50.89 L72.70 50.74 L72.74 50.60 L72.78 50.46 L72.82 50.31 L72.86 50.17 L72.91 50.03 L72.95 49.89 L72.99 49.75 L73.03 49.62 L73.07 49.48 L73.11 49.34 L73.16 49.21 L73.20 49.07 L73.24 48.94 L73.28 48.80 L73.32 48.67 L73.36 48.54 L73.41 48.41 L73.45 48.28 L73.49 48.15 L73.53 48.02 L73.57 47.89 L73.62 47.76 L73.66 47.63 L73.70 47.51 L73.74 47.38 L73.78 47.25 L73.82 47.13 L73.87 47.01 L73.91 46.88 L73.95 46.76 L73.99 46.64 L74.03 46.52 L74.07 46.40 L74.12 46.28 L74.16 46.16 L74.20 46.04 L74.24 45.92 L74.28 45.80 L74.32 45.68 L74.37 45.57 L74.41 45.45 L74.45 45.34 L74.49 45.22 L74.53 45.11 L74.58 44.99 L74.62 44.88 L74.66 44.77 L74.70 44.66 L74.74 44.55 L74.78 44.44 L74.83 44.33 L74.87 44.22 L74.91 44.11 L74.95 44.00 L74.99 43.89 L75.03 43.78 L75.08 43.68 L75.12 43.57 L75.16 43.47 L75.56 42.49 L75.95 41.56 L76.35 40.67 L76.74 39.82 L77.14 39.01 L77.54 38.24 L77.93 37.50 L78.33 36.79 L78.73 36.12 L79.12 35.47 L79.52 34.85 L79.91 34.26 L80.31 33.70 L80.71 33.16 L81.10 32.64 L81.50 32.14 L81.89 31.67 L82.29 31.22 L82.69 30.79 L83.08 30.37 L83.48 29.98 L83.88 29.60 L84.27 29.24 L84.67 28.89 L85.06 28.56 L85.46 28.25 L85.86 27.95 L86.25 27.66 L86.65 27.39 L87.05 27.13 L87.44 26.88 L87.84 26.65 L88.23 26.43 L88.63 26.22 L89.03 26.02 L89.42 25.83 L89.82 25.65 L90.21 25.48 L90.61 25.32 L91.01 25.17 L91.40 25.03 L91.80 24.90 L92.20 24.78 L92.59 24.66 L92.99 24.56 L93.38 24.46 L93.78 24.37 L94.18 24.29 L94.57 24.21 L94.97 24.14 L95.36 24.08 L95.76 24.03 L96.16 23.98 L96.55 23.94 L96.95 23.90 L97.35 23.87 L97.74 23.85 L98.14 23.83 L98.53 23.82 L98.93 23.82 L99.33 23.81 L99.72 23.82 L100.12 23.83 L100.51 23.84 L100.91 23.86 L101.31 23.89 L101.70 23.92 L102.10 23.95 L102.50 23.99 L102.89 24.04 L103.29 24.08 L103.68 24.14 L104.08 24.19 L104.48 24.25 L104.87 24.31 L105.27 24.38 L105.67 24.45 L106.06 24.53 L106.46 24.61 L106.85 24.69 L107.25 24.78 L107.65 24.87 L108.04 24.96 L108.44 25.06 L108.83 25.16 L109.23 25.26 L109.63 25.36 L110.02 25.47 L110.42 25.58 L110.82 25.70 L111.21 25.82 L111.61 25.94 L112.00 26.06 L112.40 26.19 L112.80 26.31 L113.19 26.45 L113.59 26.58 L113.98 26.72 L114.38 26.85 L114.78 27.00 L115.17 27.14 L115.57 27.28 L115.97 27.43 L116.36 27.58 L116.76 27.74 L117.15 27.89 L117.55 28.05 L117.95 28.21 L118.34 28.37 L118.74 28.53 L119.13 28.70 L119.53 28.86 L119.93 29.03 L120.32 29.20 L120.72 29.37 L121.12 29.55 L121.51 29.73 L121.91 29.90 L122.30 30.08 L122.70 30.26 L123.10 30.45 L123.49 30.63 L123.89 30.82 L124.29 31.01 L124.68 31.20 L125.08 31.39 L125.47 31.58 L125.87 31.77 L126.27 31.97 L126.66 32.17 L127.06 32.36 L127.45 32.56 L127.85 32.77 L128.25 32.97 L128.64 33.17 L129.04 33.38 L129.44 33.58 L129.83 33.79 L130.23 34.00 L130.62 34.21 L131.02 34.42 L131.42 34.63 L131.81 34.85 L132.21 35.06 L132.60 35.28 L133.00 35.49 L133.40 35.71 L133.79 35.93 L134.19 36.15 L134.59 36.37 L134.98 36.59 L135.38 36.82 L135.77 37.04 L136.17 37.27 L136.57 37.49 L136.96 37.72 L137.36 37.95 L137.75 38.18 L138.15 38.40 L138.55 38.64 L138.94 38.87 L139.34 39.10 L139.74 39.33 L140.13 39.57 L140.53 39.80 L140.92 40.04 L141.32 40.27 L141.72 40.51 L142.11 40.75 L142.51 40.98 L142.91 41.22 L143.30 41.46 L143.70 41.70 L144.09 41.95 L144.49 42.19 L144.89 42.43 L145.28 42.67 L145.68 42.92 L146.07 43.16 L146.47 43.41 L146.87 43.65 L147.26 43.90 L147.66 44.15 L148.06 44.40 L148.45 44.64 L148.85 44.89 L149.24 45.14 L149.64 45.39 L150.04 45.64 L150.43 45.89 L150.83 46.15 L151.22 46.40 L151.62 46.65 L152.02 46.90 L152.41 47.16 L152.81 47.41 L153.21 47.67 L153.60 47.92 L154.00 48.18 L154.39 48.43 L154.79 48.69 L155.19 48.95 L155.58 49.20 L155.98 49.46 L156.37 49.72 L156.77 49.98 L157.17 50.24 L157.56 50.50 L157.96 50.76 L158.36 51.02 L158.75 51.28 L159.15 51.54 L159.54 51.80 L159.94 52.07 L160.34 52.33 L160.73 52.59 L161.13 52.85 L161.53 53.12 L161.92 53.38 L162.32 53.64 L162.71 53.91 L163.11 54.17 L163.51 54.44 L163.90 54.70 L164.30 54.97 L164.69 55.24 L165.09 55.50 L165.49 55.77 L165.88 56.04 L166.28 56.30 L166.68 56.57 L167.07 56.84 L167.47 57.11 L167.86 57.38 L168.26 57.65 L168.66 57.91 L169.05 58.18 L169.45 58.45 L169.84 58.72 L170.24 58.99 L170.64 59.26 L171.03 59.53 L171.43 59.81 L171.83 60.08 L172.22 60.35 L172.62 60.62 L173.01 60.89 L173.41 61.16 L173.81 61.44 L174.20 61.71 L174.60 61.98 L174.99 62.26 L175.39 62.53 L175.79 62.80 L176.18 63.08 L176.58 63.35 L176.98 63.62 L177.37 63.90 L177.77 64.17 L178.16 64.45 L178.56 64.72 L178.96 65.00 L179.35 65.27 L179.75 65.55 L180.15 65.82 L180.54 66.10 L180.94 66.38 L181.33 66.65 L181.73 66.93 L182.13 67.21 L182.52 67.48 L182.92 67.76 L183.31 68.04 L183.71 68.32 L184.11 68.59 L184.50 68.87 L184.90 69.15 L185.30 69.43 L185.69 69.71 L186.09 69.99 L186.48 70.26 L186.88 70.54 L187.28 70.82 L187.67 71.10 L188.07 71.38 L188.46 71.66 L188.86 71.94 L189.26 72.22 L189.65 72.50 L190.05 72.78 L190.45 73.06 L190.84 73.34 L191.24 73.62 L191.63 73.90 L192.03 74.19 L192.43 74.47 L192.82 74.75 L193.22 75.03 L193.61 75.31 L194.01 75.59 L194.41 75.88 L194.80 76.16 L195.20 76.44 L195.60 76.72 L195.99 77.01 L196.39 77.29 L196.78 77.57 L197.18 77.86 L197.58 78.14 L197.97 78.42 L198.37 78.71 L198.77 78.99 L199.16 79.27 L199.56 79.56 L199.95 79.84 L200.35 80.13 L200.75 80.41 L201.14 80.70 L201.54 80.98 L201.93 81.27 L202.33 81.55 L202.73 81.84 L203.12 82.12 L203.52 82.41 L203.92 82.69 L204.31 82.98 L204.71 83.27 L205.10 83.55 L205.50 83.84 L205.90 84.13 L206.29 84.41 L206.69 84.70 L207.08 84.99 L207.48 85.27 L207.88 85.56 L208.27 85.85 L208.67 86.14 L209.07 86.43 L209.46 86.71 L209.86 87.00 L210.25 87.29 L210.65 87.58 L211.05 87.87 L211.44 88.16 L211.84 88.45 L212.23 88.74 L212.63 89.03 L213.03 89.32 L213.42 89.61 L213.82 89.90 L214.22 90.19 L214.61 90.48 L215.01 90.77 L215.40 91.06 L215.80 91.35 L216.20 91.64 L216.59 91.93 L216.99 92.22 L217.39 92.51 L217.78 92.81 L218.18 93.10 L218.57 93.39 L218.97 93.68 L219.37 93.97 L219.76 94.27 L220.16 94.56 L220.55 94.85 L220.95 95.15 L221.35 95.44 L221.74 95.73 L222.14 96.03 L222.54 96.32 L222.93 96.62 L223.33 96.91 L223.72 97.20 L224.12 97.50 L224.52 97.79 L224.91 98.09 L225.31 98.39 L225.70 98.68 L226.10 98.98 L226.50 99.27 L226.89 99.57 L227.29 99.87 L227.69 100.16 L228.08 100.46 L228.48 100.76 L228.87 101.05 L229.27 101.35 L229.67 101.65 L230.06 101.95 L230.46 102.24 L230.85 102.54 L231.25 102.84 L231.65 103.14 L232.04 103.44 L232.44 103.74 L232.84 104.04 L233.23 104.34 L233.63 104.64 L234.02 104.94 L234.42 105.24 L234.82 105.54 L235.21 105.84 L235.61 106.14 L236.01 106.44 L236.40 106.74 L236.80 107.05 L237.19 107.35 L237.59 107.65 L237.99 107.95 L238.38 108.26 L238.78 108.56 L239.17 108.86 L239.57 109.16 L239.97 109.47 L240.36 109.77 L240.76 110.08 L241.16 110.38 L241.55 110.69 L241.95 110.99 L242.34 111.30 L242.74 111.60 L243.14 111.91 L243.53 112.21 L243.93 112.52 L244.32 112.83 L244.72 113.13 L245.12 113.44 L245.51 113.75 L245.91 114.06 L246.31 114.36 L246.70 114.67 L247.10 114.98 L247.49 115.29 L247.89 115.60 L248.29 115.91 L248.68 116.22 L249.08 116.53 L249.47 116.84 L249.87 117.15 L250.27 117.46 L250.66 117.77 L251.06 118.08 L251.46 118.39 L251.85 118.70 L252.25 119.01 L252.64 119.33 L253.04 119.64 L253.44 119.95 L253.83 120.26 L254.23 120.58 L254.63 120.89 L255.02 121.21 L255.42 121.52 L255.81 121.83 L256.21 122.15 L256.61 122.46 L257.00 122.78 L257.40 123.10 L257.79 123.41 L258.19 123.73 L258.59 124.05 L258.98 124.36 L259.38 124.68 L259.78 125.00 L260.17 125.32 L260.57 125.63 L260.96 125.95 L261.36 126.27 L261.76 126.59 L262.15 126.91 L262.55 127.23 L262.94 127.55 L263.34 127.87 L263.74 128.19 L264.13 128.51 L264.53 128.83 L264.93 129.15 L265.32 129.48 L265.72 129.80 L266.11 130.12 L266.51 130.44 L266.91 130.77 L267.30 131.09 L267.70 131.41 L268.09 131.74 L268.49 132.06 L268.89 132.39 L269.28 132.71 L269.68 133.04 L270.08 133.36 L270.47 133.69 L270.87 134.02 L271.26 134.34 L271.66 134.67 L272.06 135.00 L272.45 135.32 L272.85 135.65 L273.25 135.98 L273.64 136.31 L274.04 136.64 L274.43 136.97 L274.83 137.30 L275.23 137.63 L275.62 137.96 L276.02 138.29 L276.41 138.62 L276.81 138.95 L277.21 139.28 L277.60 139.61 L278.00 139.94 L278.40 140.28 L278.79 140.61 L279.19 140.94 L279.58 141.27 L279.98 141.61 L280.38 141.94 L280.77 142.28 L281.17 142.61 L281.56 142.94 L281.96 143.28 L282.36 143.62 L282.75 143.95 L283.15 144.29 L283.55 144.62 L283.94 144.96 L284.34 145.30 L284.73 145.63 L285.13 145.97 L285.53 146.31 L285.92 146.65 L286.32 146.98 L286.71 147.32 L287.11 147.66 L287.51 148.00 L287.90 148.34 L288.30 148.68 L288.70 149.02 L289.09 149.36 L289.49 149.70 L289.88 150.04 L290.28 150.38 L290.68 150.72 L291.07 151.06 L291.47 151.41 L291.87 151.75 L292.26 152.09 L292.66 152.43 L293.05 152.77 L293.45 153.12 L293.85 153.46 L294.24 153.80 L294.64 154.15 L295.03 154.49 L295.43 154.83 L295.83 155.18 L296.22 155.52 L296.62 155.87 L297.02 156.21 L297.41 156.56 L297.81 156.90 L298.20 157.25 L298.60 157.59 L299.00 157.94 L299.39 158.29 L299.79 158.63 L300.18 158.98 L300.58 159.32 L300.98 159.67 L301.37 160.02 L301.77 160.36 L302.17 160.71 L302.56 161.06 L302.96 161.41 L303.35 161.75 L303.75 162.10 L304.15 162.45 L304.54 162.80 L304.94 163.14 L305.33 163.49 L305.73 163.84 L306.13 164.19 L306.52 164.53 L306.92 164.88 L307.32 165.23 L307.71 165.58 L308.11 165.93 L308.50 166.28 L308.90 166.62 L309.30 166.97 L309.69 167.32 L310.09 167.67 L310.49 168.02 L310.88 168.37 L311.28 168.71 L311.67 169.06 L312.07 169.41 L312.47 169.76 L312.86 170.11 L313.26 170.45 L313.65 170.80 L314.05 171.15 L314.45 171.50 L314.84 171.84 L315.24 172.19 L315.64 172.54 L316.03 172.89 L316.43 173.23 L316.82 173.58 L317.22 173.93 L317.62 174.27 L318.01 174.62 L318.41 174.96 L318.80 175.31 L319.20 175.66 L319.60 176.00 L319.99 176.34 L320.39 176.69 L320.79 177.03 L321.18 177.38 L321.58 177.72 L321.97 178.06 L322.37 178.41 L322.77 178.75 L323.16 179.09 L323.56 179.43 L323.95 179.78 L324.35 180.12 L324.75 180.46 L325.14 180.80 L325.54 181.14 L325.94 181.47 L326.33 181.81 L326.73 182.15 L327.12 182.49 L327.52 182.82 L327.92 183.16 L328.31 183.50 L328.71 183.83 L329.11 184.17 L329.50 184.50 L329.90 184.83 L330.29 185.16 L330.69 185.50 L331.09 185.83 L331.48 186.16 L331.88 186.49 L332.27 186.81 L332.67 187.14 L333.07 187.47 L333.46 187.79 L333.86 188.12 L334.26 188.44 L334.65 188.77 L335.05 189.09 L335.44 189.41 L335.84 189.73 L336.24 190.05 L336.63 190.36 L337.03 190.68 L337.42 191.00 L337.82 191.31 L338.22 191.62 L338.61 191.94 L339.01 192.25 L339.41 192.56 L339.80 192.87 L340.20 193.17 L340.59 193.48 L340.99 193.78 L341.39 194.08 L341.78 194.39 L342.18 194.69 L342.57 194.98 L342.97 195.28 L343.37 195.58 L343.76 195.87 L344.16 196.16 L344.56 196.45 L344.95 196.74 L345.35 197.03 L345.74 197.31 L346.14 197.60 L346.54 197.88 L346.93 198.16 L347.33 198.44 L347.73 198.71 L348.12 198.99 L348.52 199.26 L348.91 199.53 L349.31 199.80 L349.71 200.06 L350.10 200.33 L350.50 200.59 L350.89 200.85 L351.29 201.10 L351.69 201.36 L352.08 201.61 L352.48 201.86 L352.88 202.11 L353.27 202.35 L353.67 202.59 L354.06 202.83 L354.46 203.07 L354.86 203.31 L355.25 203.54 L355.65 203.77 L356.04 203.99 L356.44 204.22 L356.84 204.44 L357.23 204.66 L357.63 204.87 L358.03 205.08 L358.42 205.29 L358.82 205.50 L359.21 205.70 L359.61 205.90 L360.01 206.10 L360.40 206.29 L360.80 206.48 L361.19 206.67 L361.59 206.85 L361.99 207.03 L362.38 207.21 L362.78 207.38 L363.18 207.55 L363.57 207.72 L363.97 207.88 L364.36 208.04 L364.76 208.19 L365.16 208.35 L365.55 208.49 L365.95 208.64 L366.35 208.78 L366.74 208.92 L367.14 209.05 L367.53 209.18 L367.93 209.30 L368.33 209.42 L368.72 209.54 L369.12 209.66 L369.51 209.76 L369.91 209.87 L370.31 209.97 L370.70 210.07 L371.10 210.16 L371.50 210.25 L371.89 210.34 L372.29 210.42 L372.68 210.50 L373.08 210.58 L373.48 210.65 L373.87 210.71 L374.27 210.78 L374.66 210.84 L375.06 210.89 L375.46 210.95 L375.85 210.99 L376.25 211.04 L376.65 211.08 L377.04 211.12 L377.44 211.16 L377.83 211.19 L378.23 211.22 L378.63 211.24 L379.02 211.27 L379.42 211.29 L379.81 211.31 L380.21 211.32 L380.61 211.34 L381.00 211.35 L381.40 211.36 L381.80 211.37 L382.19 211.38 L382.59 211.38 L382.98 211.39 L383.38 211.39 L383.78 211.39 L384.17 211.40 L384.57 211.40 L384.97 211.40 L385.36 211.40 L385.76 211.40 L386.15 211.40 L386.55 211.40 L386.95 211.40 L387.34 211.40 L387.74 211.40 L388.13 211.40 L388.53 211.40 L388.93 211.40 L389.32 211.40 L389.72 211.40 L390.12 211.40 L390.51 211.40 L390.91 211.40 L391.30 211.40 L391.70 211.40 L392.70 211.40" stroke="#ff8000" stroke-dasharray="2.9 2.85 6.4 2.45" stroke-dashoffset="1.05"/>
<path d="M58.50 212.40 L58.50 211.40 L58.54 211.40 L58.58 211.40 L58.63 211.40 L58.67 211.40 L58.71 211.40 L58.75 211.39 L58.79 211.35 L58.83 211.27 L58.88 211.11 L58.92 210.86 L58.96 210.49 L59.00 210.00 L59.04 209.39 L59.08 208.65 L59.13 207.79 L59.17 206.81 L59.21 205.73 L59.25 204.56 L59.29 203.30 L59.34 201.96 L59.38 200.57 L59.42 199.11 L59.46 197.61 L59.50 196.07 L59.54 194.50 L59.59 192.90 L59.63 191.29 L59.67 189.66 L59.71 188.01 L59.75 186.37 L59.79 184.72 L59.84 183.07 L59.88 181.42 L59.92 179.78 L59.96 178.15 L60.00 176.53 L60.04 174.92 L60.09 173.32 L60.13 171.73 L60.17 170.17 L60.21 168.61 L60.25 167.07 L60.30 165.55 L60.34 164.05 L60.38 162.57 L60.42 161.10 L60.46 159.65 L60.50 158.22 L60.55 156.81 L60.59 155.42 L60.63 154.04 L60.67 152.68 L60.71 151.35 L60.75 150.03 L60.80 148.72 L60.84 147.44 L60.88 146.17 L60.92 144.92 L60.96 143.69 L61.01 142.48 L61.05 141.28 L61.09 140.10 L61.13 138.93 L61.17 137.79 L61.21 136.65 L61.26 135.54 L61.30 134.44 L61.34 133.35 L61.38 132.28 L61.42 131.22 L61.46 130.18 L61.51 129.15 L61.55 128.14 L61.59 127.14 L61.63 126.15 L61.67 125.18 L61.72 124.22 L61.76 123.27 L61.80 122.34 L61.84 121.42 L61.88 120.50 L61.92 119.61 L61.97 118.72 L62.01 117.84 L62.05 116.98 L62.09 116.13 L62.13 115.29 L62.17 114.45 L62.22 113.63 L62.26 112.82 L62.30 112.02 L62.34 111.23 L62.38 110.45 L62.42 109.68 L62.47 108.92 L62.51 108.17 L62.55 107.42 L62.59 106.69 L62.63 105.96 L62.68 105.25 L62.72 104.54 L62.76 103.84 L62.80 103.14 L62.84 102.46 L62.88 101.79 L62.93 101.12 L62.97 100.46 L63.01 99.80 L63.05 99.16 L63.09 98.52 L63.13 97.89 L63.18 97.26 L63.22 96.65 L63.26 96.04 L63.30 95.43 L63.34 94.84 L63.39 94.25 L63.43 93.66 L63.47 93.08 L63.51 92.51 L63.55 91.95 L63.59 91.39 L63.64 90.83 L63.68 90.28 L63.72 89.74 L63.76 89.21 L63.80 88.68 L63.84 88.15 L63.89 87.63 L63.93 87.11 L63.97 86.60 L64.01 86.10 L64.05 85.60 L64.10 85.11 L64.14 84.62 L64.18 84.13 L64.22 83.65 L64.26 83.18 L64.30 82.71 L64.35 82.24 L64.39 81.78 L64.43 81.32 L64.47 80.87 L64.51 80.42 L64.55 79.97 L64.60 79.53 L64.64 79.10 L64.68 78.67 L64.72 78.24 L64.76 77.82 L64.80 77.40 L64.85 76.98 L64.89 76.57 L64.93 76.16 L64.97 75.75 L65.01 75.35 L65.06 74.95 L65.10 74.56 L65.14 74.17 L65.18 73.78 L65.22 73.40 L65.26 73.02 L65.31 72.64 L65.35 72.27 L65.39 71.90 L65.43 71.53 L65.47 71.17 L65.51 70.81 L65.56 70.45 L65.60 70.09 L65.64 69.74 L65.68 69.39 L65.72 69.05 L65.77 68.70 L65.81 68.36 L65.85 68.03 L65.89 67.69 L65.93 67.36 L65.97 67.03 L66.02 66.70 L66.06 66.38 L66.10 66.06 L66.14 65.74 L66.18 65.43 L66.22 65.11 L66.27 64.80 L66.31 64.49 L66.35 64.19 L66.39 63.88 L66.43 63.58 L66.48 63.28 L66.52 62.99 L66.56 62.69 L66.60 62.40 L66.64 62.11 L66.68 61.83 L66.73 61.54 L66.77 61.26 L66.81 60.98 L66.85 60.70 L66.89 60.42 L66.93 60.15 L66.98 59.88 L67.02 59.61 L67.06 59.34 L67.10 59.07 L67.14 58.81 L67.18 58.55 L67.23 58.29 L67.27 58.03 L67.31 57.77 L67.35 57.52 L67.39 57.26 L67.44 57.01 L67.48 56.77 L67.52 56.52 L67.56 56.27 L67.60 56.03 L67.64 55.79 L67.69 55.55 L67.73 55.31 L67.77 55.07 L67.81 54.84 L67.85 54.60 L67.89 54.37 L67.94 54.14 L67.98 53.92 L68.02 53.69 L68.06 53.46 L68.10 53.24 L68.15 53.02 L68.19 52.80 L68.23 52.58 L68.27 52.36 L68.31 52.15 L68.35 51.93 L68.40 51.72 L68.44 51.51 L68.48 51.30 L68.52 51.09 L68.56 50.88 L68.60 50.68 L68.65 50.47 L68.69 50.27 L68.73 50.07 L68.77 49.87 L68.81 49.67 L68.86 49.47 L68.90 49.27 L68.94 49.08 L68.98 48.88 L69.02 48.69 L69.06 48.50 L69.11 48.31 L69.15 48.12 L69.19 47.94 L69.23 47.75 L69.27 47.56 L69.31 47.38 L69.36 47.20 L69.40 47.02 L69.44 46.84 L69.48 46.66 L69.52 46.48 L69.56 46.30 L69.61 46.13 L69.65 45.95 L69.69 45.78 L69.73 45.61 L69.77 45.44 L69.82 45.27 L69.86 45.10 L69.90 44.93 L69.94 44.76 L69.98 44.60 L70.02 44.43 L70.07 44.27 L70.11 44.11 L70.15 43.95 L70.19 43.79 L70.23 43.63 L70.27 43.47 L70.32 43.31 L70.36 43.15 L70.40 43.00 L70.44 42.84 L70.48 42.69 L70.53 42.54 L70.57 42.38 L70.61 42.23 L70.65 42.08 L70.69 41.93 L70.73 41.79 L70.78 41.64 L70.82 41.49 L70.86 41.35 L70.90 41.20 L70.94 41.06 L70.98 40.92 L71.03 40.77 L71.07 40.63 L71.11 40.49 L71.15 40.35 L71.19 40.22 L71.24 40.08 L71.28 39.94 L71.32 39.80 L71.36 39.67 L71.40 39.54 L71.44 39.40 L71.49 39.27 L71.53 39.14 L71.57 39.01 L71.61 38.88 L71.65 38.75 L71.69 38.62 L71.74 38.49 L71.78 38.36 L71.82 38.23 L71.86 38.11 L71.90 37.98 L71.94 37.86 L71.99 37.73 L72.03 37.61 L72.07 37.49 L72.11 37.37 L72.15 37.25 L72.20 37.13 L72.24 37.01 L72.28 36.89 L72.32 36.77 L72.36 36.65 L72.40 36.54 L72.45 36.42 L72.49 36.31 L72.53 36.19 L72.57 36.08 L72.61 35.96 L72.65 35.85 L72.70 35.74 L72.74 35.63 L72.78 35.52 L72.82 35.41 L72.86 35.30 L72.91 35.19 L72.95 35.08 L72.99 34.97 L73.03 34.86 L73.07 34.76 L73.11 34.65 L73.16 34.55 L73.20 34.44 L73.24 34.34 L73.28 34.24 L73.32 34.13 L73.36 34.03 L73.41 33.93 L73.45 33.83 L73.49 33.73 L73.53 33.63 L73.57 33.53 L73.62 33.43 L73.66 33.33 L73.70 33.23 L73.74 33.14 L73.78 33.04 L73.82 32.94 L73.87 32.85 L73.91 32.75 L73.95 32.66 L73.99 32.56 L74.03 32.47 L74.07 32.38 L74.12 32.28 L74.16 32.19 L74.20 32.10 L74.24 32.01 L74.28 31.92 L74.32 31.83 L74.37 31.74 L74.41 31.65 L74.45 31.56 L74.49 31.48 L74.53 31.39 L74.58 31.30 L74.62 31.22 L74.66 31.13 L74.70 31.04 L74.74 30.96 L74.78 30.87 L74.83 30.79 L74.87 30.71 L74.91 30.62 L74.95 30.54 L74.99 30.46 L75.03 30.38 L75.08 30.30 L75.12 30.22 L75.16 30.14 L75.56 29.39 L75.95 28.69 L76.35 28.03 L76.74 27.39 L77.14 26.79 L77.54 26.22 L77.93 25.68 L78.33 25.17 L78.73 24.69 L79.12 24.23 L79.52 23.79 L79.91 23.38 L80.31 22.99 L80.71 22.62 L81.10 22.27 L81.50 21.94 L81.89 21.63 L82.29 21.34 L82.69 21.06 L83.08 20.80 L83.48 20.56 L83.88 20.33 L84.27 20.12 L84.67 19.92 L85.06 19.74 L85.46 19.57 L85.86 19.41 L86.25 19.26 L86.65 19.13 L87.05 19.00 L87.44 18.89 L87.84 18.79 L88.23 18.70 L88.63 18.62 L89.03 18.55 L89.42 18.49 L89.82 18.43 L90.21 18.39 L90.61 18.35 L91.01 18.33 L91.40 18.31 L91.80 18.30 L92.20 18.29 L92.59 18.30 L92.99 18.31 L93.38 18.32 L93.78 18.35 L94.18 18.38 L94.57 18.41 L94.97 18.46 L95.36 18.51 L95.76 18.56 L96.16 18.62 L96.55 18.69 L96.95 18.76 L97.35 18.83 L97.74 18.91 L98.14 19.00 L98.53 19.09 L98.93 19.18 L99.33 19.28 L99.72 19.39 L100.12 19.50 L100.51 19.61 L100.91 19.73 L101.31 19.85 L101.70 19.97 L102.10 20.10 L102.50 20.23 L102.89 20.37 L103.29 20.50 L103.68 20.65 L104.08 20.79 L104.48 20.94 L104.87 21.09 L105.27 21.25 L105.67 21.40 L106.06 21.56 L106.46 21.73 L106.85 21.89 L107.25 22.06 L107.65 22.23 L108.04 22.41 L108.44 22.58 L108.83 22.76 L109.23 22.94 L109.63 23.13 L110.02 23.31 L110.42 23.50 L110.82 23.69 L111.21 23.88 L111.61 24.08 L112.00 24.27 L112.40 24.47 L112.80 24.67 L113.19 24.88 L113.59 25.08 L113.98 25.29 L114.38 25.49 L114.78 25.70 L115.17 25.91 L115.57 26.13 L115.97 26.34 L116.36 26.55 L116.76 26.77 L117.15 26.99 L117.55 27.21 L117.95 27.43 L118.34 27.66 L118.74 27.88 L119.13 28.11 L119.53 28.33 L119.93 28.56 L120.32 28.79 L120.72 29.02 L121.12 29.25 L121.51 29.48 L121.91 29.72 L122.30 29.95 L122.70 30.19 L123.10 30.43 L123.49 30.67 L123.89 30.90 L124.29 31.14 L124.68 31.39 L125.08 31.63 L125.47 31.87 L125.87 32.11 L126.27 32.36 L126.66 32.61 L127.06 32.85 L127.45 33.10 L127.85 33.35 L128.25 33.60 L128.64 33.85 L129.04 34.10 L129.44 34.35 L129.83 34.60 L130.23 34.85 L130.62 35.10 L131.02 35.36 L131.42 35.61 L131.81 35.87 L132.21 36.12 L132.60 36.38 L133.00 36.64 L133.40 36.89 L133.79 37.15 L134.19 37.41 L134.59 37.67 L134.98 37.93 L135.38 38.19 L135.77 38.45 L136.17 38.71 L136.57 38.97 L136.96 39.23 L137.36 39.50 L137.75 39.76 L138.15 40.02 L138.55 40.29 L138.94 40.55 L139.34 40.82 L139.74 41.08 L140.13 41.35 L140.53 41.61 L140.92 41.88 L141.32 42.14 L141.72 42.41 L142.11 42.68 L142.51 42.95 L142.91 43.21 L143.30 43.48 L143.70 43.75 L144.09 44.02 L144.49 44.29 L144.89 44.56 L145.28 44.83 L145.68 45.10 L146.07 45.37 L146.47 45.64 L146.87 45.91 L147.26 46.18 L147.66 46.45 L148.06 46.72 L148.45 46.99 L148.85 47.27 L149.24 47.54 L149.64 47.81 L150.04 48.08 L150.43 48.36 L150.83 48.63 L151.22 48.90 L151.62 49.17 L152.02 49.45 L152.41 49.72 L152.81 50.00 L153.21 50.27 L153.60 50.54 L154.00 50.82 L154.39 51.09 L154.79 51.37 L155.19 51.64 L155.58 51.92 L155.98 52.19 L156.37 52.47 L156.77 52.74 L157.17 53.02 L157.56 53.29 L157.96 53.57 L158.36 53.85 L158.75 54.12 L159.15 54.40 L159.54 54.67 L159.94 54.95 L160.34 55.23 L160.73 55.50 L161.13 55.78 L161.53 56.06 L161.92 56.33 L162.32 56.61 L162.71 56.89 L163.11 57.17 L163.51 57.44 L163.90 57.72 L164.30 58.00 L164.69 58.28 L165.09 58.55 L165.49 58.83 L165.88 59.11 L166.28 59.39 L166.68 59.67 L167.07 59.94 L167.47 60.22 L167.86 60.50 L168.26 60.78 L168.66 61.06 L169.05 61.34 L169.45 61.61 L169.84 61.89 L170.24 62.17 L170.64 62.45 L171.03 62.73 L171.43 63.01 L171.83 63.29 L172.22 63.57 L172.62 63.85 L173.01 64.13 L173.41 64.41 L173.81 64.68 L174.20 64.96 L174.60 65.24 L174.99 65.52 L175.39 65.80 L175.79 66.08 L176.18 66.36 L176.58 66.64 L176.98 66.92 L177.37 67.20 L177.77 67.48 L178.16 67.76 L178.56 68.04 L178.96 68.32 L179.35 68.60 L179.75 68.88 L180.15 69.16 L180.54 69.44 L180.94 69.73 L181.33 70.01 L181.73 70.29 L182.13 70.57 L182.52 70.85 L182.92 71.13 L183.31 71.41 L183.71 71.69 L184.11 71.97 L184.50 72.25 L184.90 72.53 L185.30 72.82 L185.69 73.10 L186.09 73.38 L186.48 73.66 L186.88 73.94 L187.28 74.22 L187.67 74.51 L188.07 74.79 L188.46 75.07 L188.86 75.35 L189.26 75.63 L189.65 75.92 L190.05 76.20 L190.45 76.48 L190.84 76.76 L191.24 77.04 L191.63 77.33 L192.03 77.61 L192.43 77.89 L192.82 78.18 L193.22 78.46 L193.61 78.74 L194.01 79.02 L194.41 79.31 L194.80 79.59 L195.20 79.87 L195.60 80.16 L195.99 80.44 L196.39 80.72 L196.78 81.01 L197.18 81.29 L197.58 81.58 L197.97 81.86 L198.37 82.14 L198.77 82.43 L199.16 82.71 L199.56 83.00 L199.95 83.28 L200.35 83.56 L200.75 83.85 L201.14 84.13 L201.54 84.42 L201.93 84.70 L202.33 84.99 L202.73 85.27 L203.12 85.56 L203.52 85.85 L203.92 86.13 L204.31 86.42 L204.71 86.70 L205.10 86.99 L205.50 87.27 L205.90 87.56 L206.29 87.85 L206.69 88.13 L207.08 88.42 L207.48 88.71 L207.88 88.99 L208.27 89.28 L208.67 89.57 L209.07 89.85 L209.46 90.14 L209.86 90.43 L210.25 90.72 L210.65 91.00 L211.05 91.29 L211.44 91.58 L211.84 91.87 L212.23 92.16 L212.63 92.45 L213.03 92.73 L213.42 93.02 L213.82 93.31 L214.22 93.60 L214.61 93.89 L215.01 94.18 L215.40 94.47 L215.80 94.76 L216.20 95.05 L216.59 95.34 L216.99 95.63 L217.39 95.92 L217.78 96.21 L218.18 96.50 L218.57 96.79 L218.97 97.08 L219.37 97.38 L219.76 97.67 L220.16 97.96 L220.55 98.25 L220.95 98.54 L221.35 98.83 L221.74 99.13 L222.14 99.42 L222.54 99.71 L222.93 100.01 L223.33 100.30 L223.72 100.59 L224.12 100.89 L224.52 101.18 L224.91 101.47 L225.31 101.77 L225.70 102.06 L226.10 102.36 L226.50 102.65 L226.89 102.95 L227.29 103.24 L227.69 103.54 L228.08 103.83 L228.48 104.13 L228.87 104.42 L229.27 104.72 L229.67 105.02 L230.06 105.31 L230.46 105.61 L230.85 105.91 L231.25 106.20 L231.65 106.50 L232.04 106.80 L232.44 107.10 L232.84 107.40 L233.23 107.69 L233.63 107.99 L234.02 108.29 L234.42 108.59 L234.82 108.89 L235.21 109.19 L235.61 109.49 L236.01 109.79 L236.40 110.09 L236.80 110.39 L237.19 110.69 L237.59 110.99 L237.99 111.29 L238.38 111.60 L238.78 111.90 L239.17 112.20 L239.57 112.50 L239.97 112.80 L240.36 113.11 L240.76 113.41 L241.16 113.71 L241.55 114.02 L241.95 114.32 L242.34 114.63 L242.74 114.93 L243.14 115.23 L243.53 115.54 L243.93 115.84 L244.32 116.15 L244.72 116.46 L245.12 116.76 L245.51 117.07 L245.91 117.37 L246.31 117.68 L246.70 117.99 L247.10 118.29 L247.49 118.60 L247.89 118.91 L248.29 119.22 L248.68 119.53 L249.08 119.84 L249.47 120.14 L249.87 120.45 L250.27 120.76 L250.66 121.07 L251.06 121.38 L251.46 121.69 L251.85 122.00 L252.25 122.32 L252.64 122.63 L253.04 122.94 L253.44 123.25 L253.83 123.56 L254.23 123.87 L254.63 124.19 L255.02 124.50 L255.42 124.81 L255.81 125.13 L256.21 125.44 L256.61 125.75 L257.00 126.07 L257.40 126.38 L257.79 126.70 L258.19 127.01 L258.59 127.33 L258.98 127.64 L259.38 127.96 L259.78 128.28 L260.17 128.59 L260.57 128.91 L260.96 129.23 L261.36 129.55 L261.76 129.86 L262.15 130.18 L262.55 130.50 L262.94 130.82 L263.34 131.14 L263.74 131.46 L264.13 131.78 L264.53 132.10 L264.93 132.42 L265.32 132.74 L265.72 133.06 L266.11 133.38 L266.51 133.70 L266.91 134.02 L267.30 134.34 L267.70 134.67 L268.09 134.99 L268.49 135.31 L268.89 135.63 L269.28 135.96 L269.68 136.28 L270.08 136.61 L270.47 136.93 L270.87 137.25 L271.26 137.58 L271.66 137.90 L272.06 138.23 L272.45 138.55 L272.85 138.88 L273.25 139.21 L273.64 139.53 L274.04 139.86 L274.43 140.19 L274.83 140.51 L275.23 140.84 L275.62 141.17 L276.02 141.50 L276.41 141.82 L276.81 142.15 L277.21 142.48 L277.60 142.81 L278.00 143.14 L278.40 143.47 L278.79 143.80 L279.19 144.13 L279.58 144.46 L279.98 144.79 L280.38 145.12 L280.77 145.45 L281.17 145.78 L281.56 146.11 L281.96 146.45 L282.36 146.78 L282.75 147.11 L283.15 147.44 L283.55 147.77 L283.94 148.11 L284.34 148.44 L284.73 148.77 L285.13 149.11 L285.53 149.44 L285.92 149.77 L286.32 150.11 L286.71 150.44 L287.11 150.78 L287.51 151.11 L287.90 151.45 L288.30 151.78 L288.70 152.12 L289.09 152.45 L289.49 152.79 L289.88 153.12 L290.28 153.46 L290.68 153.79 L291.07 154.13 L291.47 154.47 L291.87 154.80 L292.26 155.14 L292.66 155.48 L293.05 155.81 L293.45 156.15 L293.85 156.49 L294.24 156.82 L294.64 157.16 L295.03 157.50 L295.43 157.84 L295.83 158.17 L296.22 158.51 L296.62 158.85 L297.02 159.19 L297.41 159.52 L297.81 159.86 L298.20 160.20 L298.60 160.54 L299.00 160.88 L299.39 161.21 L299.79 161.55 L300.18 161.89 L300.58 162.23 L300.98 162.57 L301.37 162.90 L301.77 163.24 L302.17 163.58 L302.56 163.92 L302.96 164.26 L303.35 164.60 L303.75 164.93 L304.15 165.27 L304.54 165.61 L304.94 165.95 L305.33 166.29 L305.73 166.62 L306.13 166.96 L306.52 167.30 L306.92 167.64 L307.32 167.97 L307.71 168.31 L308.11 168.65 L308.50 168.99 L308.90 169.32 L309.30 169.66 L309.69 170.00 L310.09 170.33 L310.49 170.67 L310.88 171.00 L311.28 171.34 L311.67 171.68 L312.07 172.01 L312.47 172.35 L312.86 172.68 L313.26 173.02 L313.65 173.35 L314.05 173.68 L314.45 174.02 L314.84 174.35 L315.24 174.68 L315.64 175.02 L316.03 175.35 L316.43 175.68 L316.82 176.01 L317.22 176.35 L317.62 176.68 L318.01 177.01 L318.41 177.34 L318.80 177.67 L319.20 178.00 L319.60 178.33 L319.99 178.66 L320.39 178.98 L320.79 179.31 L321.18 179.64 L321.58 179.96 L321.97 180.29 L322.37 180.62 L322.77 180.94 L323.16 181.27 L323.56 181.59 L323.95 181.91 L324.35 182.23 L324.75 182.56 L325.14 182.88 L325.54 183.20 L325.94 183.52 L326.33 183.84 L326.73 184.16 L327.12 184.47 L327.52 184.79 L327.92 185.11 L328.31 185.42 L328.71 185.74 L329.11 186.05 L329.50 186.36 L329.90 186.68 L330.29 186.99 L330.69 187.30 L331.09 187.61 L331.48 187.92 L331.88 188.22 L332.27 188.53 L332.67 188.84 L333.07 189.14 L333.46 189.44 L333.86 189.75 L334.26 190.05 L334.65 190.35 L335.05 190.65 L335.44 190.95 L335.84 191.24 L336.24 191.54 L336.63 191.83 L337.03 192.13 L337.42 192.42 L337.82 192.71 L338.22 193.00 L338.61 193.29 L339.01 193.57 L339.41 193.86 L339.80 194.14 L340.20 194.43 L340.59 194.71 L340.99 194.99 L341.39 195.27 L341.78 195.54 L342.18 195.82 L342.57 196.09 L342.97 196.37 L343.37 196.64 L343.76 196.91 L344.16 197.17 L344.56 197.44 L344.95 197.70 L345.35 197.97 L345.74 198.23 L346.14 198.49 L346.54 198.74 L346.93 199.00 L347.33 199.25 L347.73 199.50 L348.12 199.75 L348.52 200.00 L348.91 200.25 L349.31 200.49 L349.71 200.73 L350.10 200.97 L350.50 201.21 L350.89 201.44 L351.29 201.68 L351.69 201.91 L352.08 202.14 L352.48 202.36 L352.88 202.59 L353.27 202.81 L353.67 203.03 L354.06 203.25 L354.46 203.46 L354.86 203.68 L355.25 203.89 L355.65 204.10 L356.04 204.30 L356.44 204.50 L356.84 204.71 L357.23 204.90 L357.63 205.10 L358.03 205.29 L358.42 205.48 L358.82 205.67 L359.21 205.85 L359.61 206.04 L360.01 206.21 L360.40 206.39 L360.80 206.56 L361.19 206.74 L361.59 206.90 L361.99 207.07 L362.38 207.23 L362.78 207.39 L363.18 207.55 L363.57 207.70 L363.97 207.85 L364.36 208.00 L364.76 208.14 L365.16 208.28 L365.55 208.42 L365.95 208.55 L366.35 208.68 L366.74 208.81 L367.14 208.94 L367.53 209.06 L367.93 209.18 L368.33 209.29 L368.72 209.41 L369.12 209.52 L369.51 209.62 L369.91 209.72 L370.31 209.82 L370.70 209.92 L371.10 210.01 L371.50 210.10 L371.89 210.19 L372.29 210.27 L372.68 210.35 L373.08 210.42 L373.48 210.50 L373.87 210.57 L374.27 210.63 L374.66 210.70 L375.06 210.76 L375.46 210.81 L375.85 210.87 L376.25 210.92 L376.65 210.97 L377.04 211.01 L377.44 211.05 L377.83 211.09 L378.23 211.13 L378.63 211.16 L379.02 211.19 L379.42 211.22 L379.81 211.24 L380.21 211.27 L380.61 211.29 L381.00 211.31 L381.40 211.32 L381.80 211.34 L382.19 211.35 L382.59 211.36 L382.98 211.37 L383.38 211.38 L383.78 211.38 L384.17 211.39 L384.57 211.39 L384.97 211.39 L385.36 211.40 L385.76 211.40 L386.15 211.40 L386.55 211.40 L386.95 211.40 L387.34 211.40 L387.74 211.40 L388.13 211.40 L388.53 211.40 L388.93 211.40 L389.32 211.40 L389.72 211.40 L390.12 211.40 L390.51 211.40 L390.91 211.40 L391.30 211.40 L391.70 211.40 L392.70 211.40" stroke="#0000ff" stroke-dasharray="3 2.605" stroke-dashoffset="0.5"/>
</g>
<path d="M117.8 110.50H162.8" stroke="#808080" stroke-width="1.9" fill="none"/>
<text x="170" y="115.35" class="lg"><tspan font-style="italic">ρ</tspan><tspan class="sb" font-style="italic" dy="1.9">B</tspan><tspan font-style="italic" dy="-1.9" dx="0.4">/</tspan><tspan font-style="italic" dx="-0.2">ρ</tspan><tspan class="sb" dy="1.9">0</tspan><tspan dy="-1.9" dx="-0.2">=0</tspan></text>
<path d="M117.8 133.62H162.8" stroke="#996633" stroke-width="1.9" fill="none" stroke-dasharray="11.8 4.3 11.8 4.3 3.9 4.3"/>
<text x="170" y="138.47" class="lg"><tspan font-style="italic">ρ</tspan><tspan class="sb" font-style="italic" dy="1.9">B</tspan><tspan font-style="italic" dy="-1.9" dx="0.4">/</tspan><tspan font-style="italic" dx="-0.2">ρ</tspan><tspan class="sb" dy="1.9">0</tspan><tspan dy="-1.9" dx="-0.2">=2</tspan></text>
<path d="M117.8 156.74H160.6" stroke="#ff0000" stroke-width="1.9" fill="none" stroke-dasharray="6.2 2.85"/>
<text x="170" y="161.59" class="lg"><tspan font-style="italic">ρ</tspan><tspan class="sb" font-style="italic" dy="1.9">B</tspan><tspan font-style="italic" dy="-1.9" dx="0.4">/</tspan><tspan font-style="italic" dx="-0.2">ρ</tspan><tspan class="sb" dy="1.9">0</tspan><tspan dy="-1.9" dx="-0.2">=3</tspan></text>
<path d="M117.8 179.86H160.6" stroke="#ff8000" stroke-width="1.9" fill="none" stroke-dasharray="2.9 2.85 6.4 2.45"/>
<text x="170" y="184.71" class="lg"><tspan font-style="italic">ρ</tspan><tspan class="sb" font-style="italic" dy="1.9">B</tspan><tspan font-style="italic" dy="-1.9" dx="0.4">/</tspan><tspan font-style="italic" dx="-0.2">ρ</tspan><tspan class="sb" dy="1.9">0</tspan><tspan dy="-1.9" dx="-0.2">=4</tspan></text>
<path d="M117.8 202.98H160.6" stroke="#0000ff" stroke-width="1.9" fill="none" stroke-dasharray="3 2.63"/>
<text x="170" y="207.83" class="lg"><tspan font-style="italic">ρ</tspan><tspan class="sb" font-style="italic" dy="1.9">B</tspan><tspan font-style="italic" dy="-1.9" dx="0.4">/</tspan><tspan font-style="italic" dx="-0.2">ρ</tspan><tspan class="sb" dy="1.9">0</tspan><tspan dy="-1.9" dx="-0.2">=5</tspan></text>
</svg></body></html>
